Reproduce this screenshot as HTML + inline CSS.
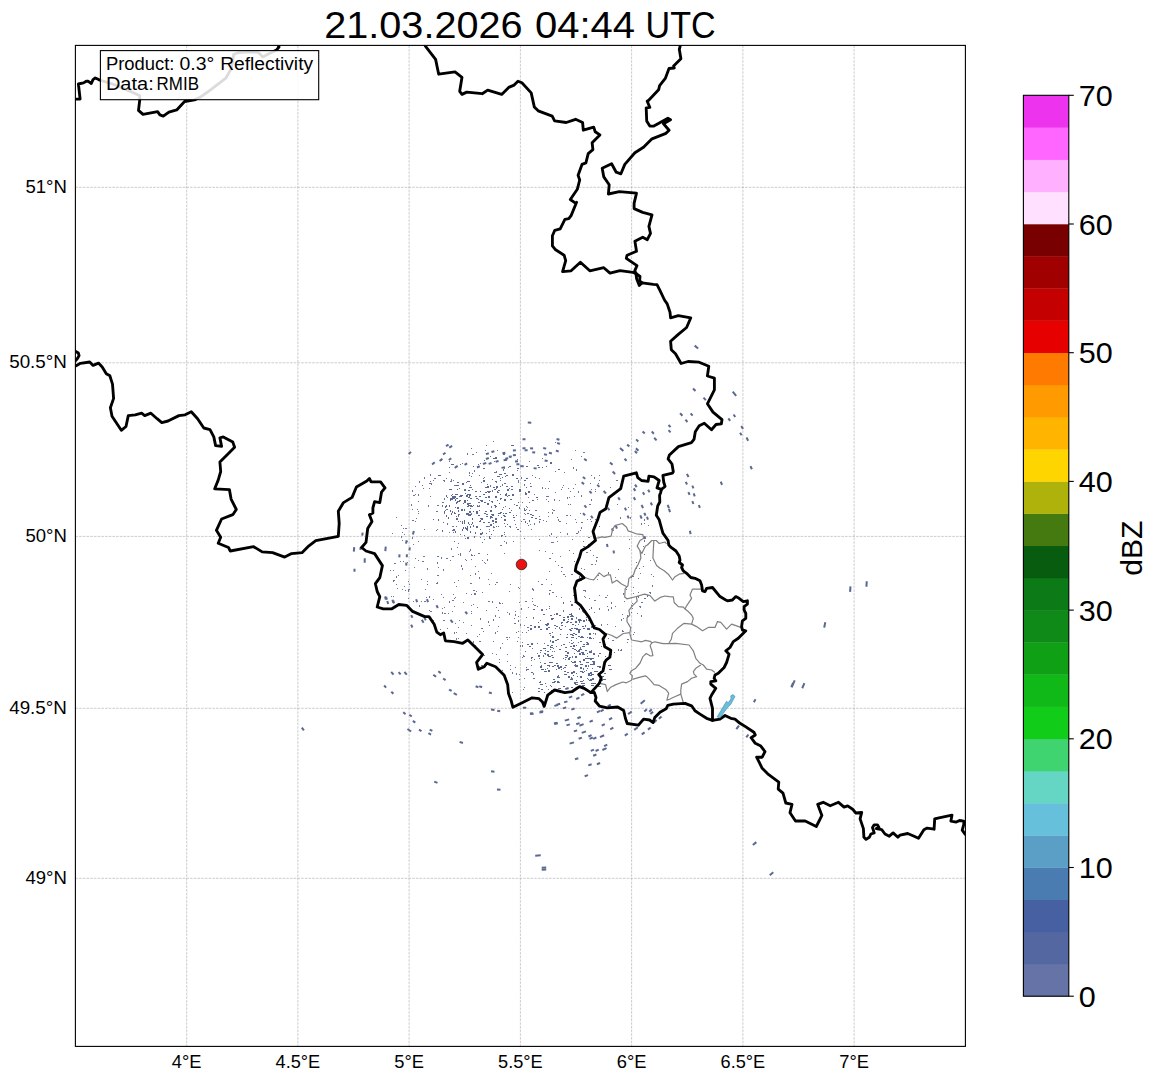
<!DOCTYPE html><html><head><meta charset="utf-8"><style>html,body{margin:0;padding:0;background:#fff;}svg{display:block;}text{font-family:"Liberation Sans",sans-serif;}</style></head><body>
<svg width="1157" height="1081" viewBox="0 0 1157 1081">
<rect x="0" y="0" width="1157" height="1081" fill="#fff"/>
<defs><clipPath id="ax"><rect x="75.4" y="45.4" width="890.0" height="1001.0000000000001"/></clipPath></defs>
<path d="M186.7 45.4V1046.4M297.9 45.4V1046.4M409.1 45.4V1046.4M520.4 45.4V1046.4M631.6 45.4V1046.4M742.9 45.4V1046.4M854.1 45.4V1046.4M75.4 878.3H965.4M75.4 708.3H965.4M75.4 536.4H965.4M75.4 362.8H965.4M75.4 187.3H965.4" stroke="#aaaaaa" stroke-width="0.6" stroke-dasharray="2.6,1.1" fill="none"/>
<g clip-path="url(#ax)">
<g fill="#5a6892">
<rect x="694.2" y="345.9" width="4.5" height="2" transform="rotate(39 696.2 346.9)"/>
<rect x="692.6" y="388.6" width="3.5" height="2" transform="rotate(45 694.1 389.6)"/>
<rect x="703.0" y="397.7" width="3.5" height="2" transform="rotate(48 704.5 398.7)"/>
<rect x="731.8" y="392.5" width="5.5" height="2" transform="rotate(51 734.3 393.5)"/>
<rect x="679.6" y="413.3" width="3.5" height="2" transform="rotate(47 681.1 414.3)"/>
<rect x="690.2" y="413.3" width="3.0" height="2" transform="rotate(49 691.5 414.3)"/>
<rect x="685.0" y="419.7" width="3.0" height="2" transform="rotate(49 686.3 420.7)"/>
<rect x="668.1" y="424.9" width="3.0" height="2" transform="rotate(47 669.4 425.9)"/>
<rect x="668.1" y="430.1" width="3.0" height="2" transform="rotate(48 669.4 431.1)"/>
<rect x="653.7" y="437.9" width="3.5" height="2" transform="rotate(47 655.2 438.9)"/>
<rect x="651.4" y="431.4" width="3.0" height="2" transform="rotate(45 652.6 432.4)"/>
<rect x="642.2" y="431.4" width="3.0" height="2" transform="rotate(43 643.5 432.4)"/>
<rect x="635.8" y="439.2" width="3.0" height="2" transform="rotate(43 637.0 440.2)"/>
<rect x="619.5" y="448.3" width="4.5" height="2" transform="rotate(41 621.5 449.3)"/>
<rect x="635.5" y="448.3" width="3.5" height="2" transform="rotate(45 637.0 449.3)"/>
<rect x="634.5" y="450.9" width="3.0" height="2" transform="rotate(45 635.7 451.9)"/>
<rect x="626.8" y="444.4" width="3.0" height="2" transform="rotate(42 628.0 445.4)"/>
<rect x="624.1" y="458.6" width="3.0" height="2" transform="rotate(45 625.4 459.6)"/>
<rect x="609.6" y="462.5" width="3.5" height="2" transform="rotate(42 611.1 463.5)"/>
<rect x="612.2" y="471.6" width="3.5" height="2" transform="rotate(45 613.7 472.6)"/>
<rect x="727.9" y="418.4" width="3.0" height="2" transform="rotate(55 729.1 419.4)"/>
<rect x="733.0" y="414.6" width="3.0" height="2" transform="rotate(55 734.3 415.6)"/>
<rect x="740.5" y="426.2" width="3.5" height="2" transform="rotate(58 742.0 427.2)"/>
<rect x="739.5" y="432.7" width="3.0" height="2" transform="rotate(59 740.7 433.7)"/>
<rect x="745.7" y="437.9" width="3.5" height="2" transform="rotate(61 747.2 438.9)"/>
<rect x="749.6" y="466.4" width="3.5" height="2" transform="rotate(67 751.1 467.4)"/>
<rect x="686.1" y="474.2" width="3.5" height="2" transform="rotate(62 687.6 475.2)"/>
<rect x="685.0" y="482.0" width="3.0" height="2" transform="rotate(64 686.3 483.0)"/>
<rect x="691.5" y="485.9" width="3.0" height="2" transform="rotate(66 692.8 486.9)"/>
<rect x="692.9" y="493.6" width="3.0" height="2" transform="rotate(68 694.1 494.6)"/>
<rect x="687.6" y="492.3" width="3.0" height="2" transform="rotate(67 688.9 493.3)"/>
<rect x="691.5" y="501.4" width="3.0" height="2" transform="rotate(70 692.8 502.4)"/>
<rect x="698.0" y="505.3" width="3.0" height="2" transform="rotate(72 699.3 506.3)"/>
<rect x="719.8" y="482.0" width="3.5" height="2" transform="rotate(68 721.3 483.0)"/>
<rect x="666.7" y="505.3" width="3.5" height="2" transform="rotate(68 668.2 506.3)"/>
<rect x="667.9" y="509.2" width="3.5" height="2" transform="rotate(70 669.4 510.2)"/>
<rect x="688.7" y="531.2" width="3.5" height="2" transform="rotate(79 690.2 532.2)"/>
<rect x="584.0" y="458.6" width="3.0" height="2" transform="rotate(31 585.2 459.6)"/>
<rect x="581.4" y="482.0" width="3.0" height="2" transform="rotate(37 582.6 483.0)"/>
<rect x="582.6" y="476.8" width="3.0" height="2" transform="rotate(36 583.9 477.8)"/>
<rect x="596.9" y="484.6" width="3.0" height="2" transform="rotate(44 598.1 485.6)"/>
<rect x="589.1" y="491.0" width="3.0" height="2" transform="rotate(44 590.4 492.0)"/>
<rect x="603.1" y="491.0" width="3.5" height="2" transform="rotate(49 604.6 492.0)"/>
<rect x="584.0" y="505.3" width="3.0" height="2" transform="rotate(48 585.2 506.3)"/>
<rect x="582.6" y="513.1" width="3.0" height="2" transform="rotate(51 583.9 514.1)"/>
<rect x="590.5" y="515.7" width="3.0" height="2" transform="rotate(56 591.7 516.7)"/>
<rect x="634.5" y="484.6" width="3.0" height="2" transform="rotate(55 635.7 485.6)"/>
<rect x="633.1" y="488.5" width="3.0" height="2" transform="rotate(56 634.4 489.5)"/>
<rect x="633.1" y="497.5" width="3.0" height="2" transform="rotate(60 634.4 498.5)"/>
<rect x="642.2" y="492.3" width="3.0" height="2" transform="rotate(60 643.5 493.3)"/>
<rect x="647.5" y="489.7" width="3.0" height="2" transform="rotate(60 648.7 490.7)"/>
<rect x="640.7" y="505.3" width="3.5" height="2" transform="rotate(64 642.2 506.3)"/>
<rect x="650.0" y="502.7" width="3.0" height="2" transform="rotate(65 651.3 503.7)"/>
<rect x="624.1" y="507.9" width="3.0" height="2" transform="rotate(62 625.4 508.9)"/>
<rect x="626.8" y="515.7" width="3.0" height="2" transform="rotate(66 628.0 516.7)"/>
<rect x="639.4" y="515.7" width="3.5" height="2" transform="rotate(68 640.9 516.7)"/>
<rect x="643.5" y="513.1" width="3.0" height="2" transform="rotate(68 644.8 514.1)"/>
<rect x="646.1" y="517.0" width="3.0" height="2" transform="rotate(70 647.4 518.0)"/>
<rect x="617.6" y="497.5" width="3.0" height="2" transform="rotate(56 618.9 498.5)"/>
<rect x="607.2" y="507.9" width="3.0" height="2" transform="rotate(57 608.5 508.9)"/>
<rect x="615.0" y="526.0" width="3.0" height="2" transform="rotate(68 616.3 527.0)"/>
<rect x="611.1" y="528.6" width="3.0" height="2" transform="rotate(69 612.4 529.6)"/>
<rect x="606.0" y="544.2" width="3.0" height="2" transform="rotate(77 607.2 545.2)"/>
<rect x="612.5" y="550.7" width="3.0" height="2" transform="rotate(82 613.7 551.7)"/>
<rect x="643.5" y="536.4" width="3.0" height="2" transform="rotate(78 644.8 537.4)"/>
<rect x="301.5" y="728.2" width="3.5" height="2" transform="rotate(233 303.0 729.2)"/>
<rect x="391.0" y="672.5" width="3.5" height="2" transform="rotate(230 392.5 673.5)"/>
<rect x="398.6" y="672.5" width="3.0" height="2" transform="rotate(228 399.8 673.5)"/>
<rect x="404.3" y="672.5" width="3.5" height="2" transform="rotate(227 405.8 673.5)"/>
<rect x="384.1" y="685.8" width="3.0" height="2" transform="rotate(228 385.3 686.8)"/>
<rect x="391.2" y="691.9" width="3.0" height="2" transform="rotate(225 392.5 692.9)"/>
<rect x="433.4" y="674.9" width="3.5" height="2" transform="rotate(218 434.9 675.9)"/>
<rect x="438.4" y="671.3" width="3.0" height="2" transform="rotate(217 439.7 672.3)"/>
<rect x="443.4" y="678.5" width="3.0" height="2" transform="rotate(214 444.6 679.5)"/>
<rect x="449.4" y="689.4" width="3.0" height="2" transform="rotate(209 450.6 690.4)"/>
<rect x="454.0" y="693.1" width="3.5" height="2" transform="rotate(207 455.5 694.1)"/>
<rect x="403.4" y="712.4" width="3.0" height="2" transform="rotate(218 404.6 713.4)"/>
<rect x="409.4" y="714.8" width="3.0" height="2" transform="rotate(216 410.7 715.8)"/>
<rect x="413.1" y="720.9" width="3.0" height="2" transform="rotate(214 414.3 721.9)"/>
<rect x="407.5" y="729.4" width="4.5" height="2" transform="rotate(214 409.5 730.4)"/>
<rect x="419.1" y="729.4" width="3.0" height="2" transform="rotate(211 420.4 730.4)"/>
<rect x="428.8" y="733.0" width="3.0" height="2" transform="rotate(208 430.0 734.0)"/>
<rect x="430.1" y="729.4" width="3.0" height="2" transform="rotate(209 431.3 730.4)"/>
<rect x="460.0" y="741.5" width="3.5" height="2" transform="rotate(199 461.5 742.5)"/>
<rect x="491.5" y="770.5" width="3.5" height="2" transform="rotate(188 493.0 771.5)"/>
<rect x="434.6" y="781.4" width="3.5" height="2" transform="rotate(201 436.1 782.4)"/>
<rect x="497.5" y="788.7" width="3.5" height="2" transform="rotate(186 499.0 789.7)"/>
<rect x="475.9" y="685.8" width="3.0" height="2" transform="rotate(200 477.2 686.8)"/>
<rect x="479.6" y="685.8" width="3.0" height="2" transform="rotate(198 480.9 686.8)"/>
<rect x="491.5" y="708.8" width="3.5" height="2" transform="rotate(191 493.0 709.8)"/>
<rect x="497.8" y="710.0" width="3.0" height="2" transform="rotate(189 499.0 711.0)"/>
<rect x="530.5" y="712.4" width="3.0" height="2" transform="rotate(176 531.7 713.4)"/>
<rect x="539.9" y="711.2" width="3.5" height="2" transform="rotate(172 541.4 712.2)"/>
<rect x="554.4" y="722.1" width="3.5" height="2" transform="rotate(168 555.9 723.1)"/>
<rect x="489.4" y="691.9" width="3.0" height="2" transform="rotate(194 490.6 692.9)"/>
<rect x="410.6" y="615.6" width="3.0" height="2" transform="rotate(245 411.9 616.6)"/>
<rect x="410.6" y="625.3" width="3.0" height="2" transform="rotate(241 411.9 626.3)"/>
<rect x="421.3" y="620.5" width="3.5" height="2" transform="rotate(240 422.8 621.5)"/>
<rect x="423.9" y="618.0" width="3.0" height="2" transform="rotate(240 425.2 619.0)"/>
<rect x="385.2" y="597.5" width="3.0" height="2" transform="rotate(256 386.5 598.5)"/>
<rect x="392.4" y="601.1" width="3.0" height="2" transform="rotate(254 393.7 602.1)"/>
<rect x="415.4" y="599.9" width="3.0" height="2" transform="rotate(251 416.7 600.9)"/>
<rect x="426.4" y="599.9" width="3.0" height="2" transform="rotate(249 427.6 600.9)"/>
<rect x="436.1" y="605.9" width="3.0" height="2" transform="rotate(243 437.3 606.9)"/>
<rect x="450.3" y="620.5" width="3.5" height="2" transform="rotate(231 451.8 621.5)"/>
<rect x="465.1" y="612.0" width="3.0" height="2" transform="rotate(229 466.4 613.0)"/>
<rect x="535.7" y="854.5" width="5.5" height="2" transform="rotate(177 538.2 855.5)"/>
<rect x="542.2" y="866.6" width="4.5" height="2" transform="rotate(176 544.2 867.6)"/>
<rect x="542.2" y="868.6" width="4.5" height="2" transform="rotate(176 544.2 869.6)"/>
<rect x="585.1" y="774.6" width="3.5" height="2" transform="rotate(163 586.6 775.6)"/>
<rect x="588.7" y="763.7" width="3.5" height="2" transform="rotate(161 590.2 764.7)"/>
<rect x="597.2" y="762.5" width="3.5" height="2" transform="rotate(159 598.7 763.5)"/>
<rect x="575.4" y="757.7" width="3.5" height="2" transform="rotate(164 576.9 758.7)"/>
<rect x="593.5" y="754.0" width="3.5" height="2" transform="rotate(159 595.0 755.0)"/>
<rect x="591.1" y="749.2" width="3.5" height="2" transform="rotate(159 592.6 750.2)"/>
<rect x="595.9" y="749.2" width="3.5" height="2" transform="rotate(158 597.4 750.2)"/>
<rect x="602.7" y="748.0" width="4.5" height="2" transform="rotate(156 604.7 749.0)"/>
<rect x="604.4" y="744.3" width="3.5" height="2" transform="rotate(155 605.9 745.3)"/>
<rect x="570.0" y="741.9" width="4.5" height="2" transform="rotate(164 572.0 742.9)"/>
<rect x="589.9" y="737.1" width="3.5" height="2" transform="rotate(158 591.4 738.1)"/>
<rect x="593.5" y="737.1" width="3.5" height="2" transform="rotate(157 595.0 738.1)"/>
<rect x="600.3" y="735.1" width="4.5" height="2" transform="rotate(155 602.3 736.1)"/>
<rect x="588.7" y="734.7" width="3.5" height="2" transform="rotate(158 590.2 735.7)"/>
<rect x="579.0" y="737.1" width="3.5" height="2" transform="rotate(161 580.5 738.1)"/>
<rect x="574.2" y="729.8" width="3.5" height="2" transform="rotate(162 575.7 730.8)"/>
<rect x="582.1" y="731.0" width="4.5" height="2" transform="rotate(160 584.1 732.0)"/>
<rect x="566.9" y="723.8" width="3.5" height="2" transform="rotate(164 568.4 724.8)"/>
<rect x="576.6" y="722.6" width="3.5" height="2" transform="rotate(160 578.1 723.6)"/>
<rect x="579.7" y="723.8" width="4.5" height="2" transform="rotate(159 581.7 724.8)"/>
<rect x="602.0" y="723.8" width="3.5" height="2" transform="rotate(153 603.5 724.8)"/>
<rect x="610.5" y="727.4" width="3.5" height="2" transform="rotate(151 612.0 728.4)"/>
<rect x="554.8" y="722.6" width="3.5" height="2" transform="rotate(168 556.3 723.6)"/>
<rect x="565.2" y="718.9" width="4.5" height="2" transform="rotate(164 567.2 719.9)"/>
<rect x="577.8" y="716.5" width="3.5" height="2" transform="rotate(159 579.3 717.5)"/>
<rect x="589.9" y="720.1" width="3.5" height="2" transform="rotate(156 591.4 721.1)"/>
<rect x="609.3" y="717.7" width="3.5" height="2" transform="rotate(150 610.8 718.7)"/>
<rect x="625.0" y="733.5" width="3.5" height="2" transform="rotate(148 626.5 734.5)"/>
<rect x="634.2" y="727.4" width="4.5" height="2" transform="rotate(145 636.2 728.4)"/>
<rect x="641.9" y="732.2" width="3.5" height="2" transform="rotate(144 643.4 733.2)"/>
<rect x="648.0" y="727.4" width="3.5" height="2" transform="rotate(142 649.5 728.4)"/>
<rect x="654.0" y="720.1" width="3.5" height="2" transform="rotate(139 655.5 721.1)"/>
<rect x="658.9" y="716.5" width="3.5" height="2" transform="rotate(138 660.4 717.5)"/>
<rect x="628.1" y="711.7" width="4.5" height="2" transform="rotate(144 630.1 712.7)"/>
<rect x="597.2" y="710.5" width="3.5" height="2" transform="rotate(152 598.7 711.5)"/>
<rect x="600.8" y="709.3" width="3.5" height="2" transform="rotate(151 602.3 710.3)"/>
<rect x="608.0" y="704.4" width="3.5" height="2" transform="rotate(148 609.5 705.4)"/>
<rect x="640.4" y="700.8" width="5.5" height="2" transform="rotate(139 642.9 701.8)"/>
<rect x="644.3" y="709.3" width="3.5" height="2" transform="rotate(140 645.8 710.3)"/>
<rect x="649.2" y="709.3" width="3.5" height="2" transform="rotate(138 650.7 710.3)"/>
<rect x="650.4" y="711.7" width="3.5" height="2" transform="rotate(139 651.9 712.7)"/>
<rect x="554.8" y="704.4" width="3.5" height="2" transform="rotate(166 556.3 705.4)"/>
<rect x="557.2" y="703.2" width="3.5" height="2" transform="rotate(165 558.7 704.2)"/>
<rect x="563.3" y="706.8" width="3.5" height="2" transform="rotate(163 564.8 707.8)"/>
<rect x="571.7" y="708.0" width="3.5" height="2" transform="rotate(160 573.2 709.0)"/>
<rect x="530.6" y="712.9" width="3.5" height="2" transform="rotate(176 532.1 713.9)"/>
<rect x="540.3" y="710.5" width="3.5" height="2" transform="rotate(172 541.8 711.5)"/>
<rect x="523.3" y="706.8" width="3.5" height="2" transform="rotate(179 524.8 707.8)"/>
<rect x="564.5" y="700.8" width="3.5" height="2" transform="rotate(162 566.0 701.8)"/>
<rect x="569.3" y="695.9" width="3.5" height="2" transform="rotate(160 570.8 696.9)"/>
<rect x="576.6" y="697.2" width="3.5" height="2" transform="rotate(157 578.1 698.2)"/>
<rect x="581.4" y="693.5" width="3.5" height="2" transform="rotate(155 582.9 694.5)"/>
<rect x="565.7" y="687.5" width="3.5" height="2" transform="rotate(160 567.2 688.5)"/>
<rect x="735.8" y="726.2" width="4.5" height="2" transform="rotate(127 737.8 727.2)"/>
<rect x="746.0" y="734.7" width="3.5" height="2" transform="rotate(127 747.5 735.7)"/>
<rect x="753.3" y="699.6" width="3.5" height="2" transform="rotate(120 754.8 700.6)"/>
<rect x="790.3" y="683.8" width="4.5" height="2" transform="rotate(114 792.3 684.8)"/>
<rect x="752.8" y="842.4" width="4.5" height="2" transform="rotate(140 754.8 843.4)"/>
<rect x="769.7" y="872.6" width="4.5" height="2" transform="rotate(141 771.7 873.6)"/>
<rect x="847.8" y="587.9" width="5.5" height="2" transform="rotate(94 850.3 588.9)"/>
<rect x="864.1" y="582.7" width="5.5" height="2" transform="rotate(93 866.6 583.7)"/>
<rect x="822.3" y="623.7" width="5.5" height="2" transform="rotate(101 824.8 624.7)"/>
<rect x="789.8" y="682.6" width="7.5" height="2" transform="rotate(114 793.3 683.6)"/>
<rect x="800.9" y="684.5" width="5.5" height="2" transform="rotate(113 803.4 685.5)"/>
<rect x="527.8" y="421.7" width="3.5" height="2" transform="rotate(3 529.3 422.7)"/>
<rect x="449.0" y="445.9" width="3.5" height="2" transform="rotate(-31 450.5 446.9)"/>
<rect x="445.8" y="444.5" width="3.0" height="2" transform="rotate(-32 447.0 445.5)"/>
<rect x="442.8" y="452.8" width="3.0" height="2" transform="rotate(-35 444.0 453.8)"/>
<rect x="439.3" y="459.0" width="3.5" height="2" transform="rotate(-38 440.8 460.0)"/>
<rect x="431.7" y="462.5" width="3.5" height="2" transform="rotate(-41 433.2 463.5)"/>
<rect x="454.5" y="466.0" width="3.5" height="2" transform="rotate(-34 456.0 467.0)"/>
<rect x="448.6" y="458.3" width="3.0" height="2" transform="rotate(-34 449.8 459.3)"/>
<rect x="464.4" y="463.2" width="3.0" height="2" transform="rotate(-29 465.7 464.2)"/>
<rect x="476.9" y="466.0" width="3.0" height="2" transform="rotate(-24 478.1 467.0)"/>
<rect x="482.9" y="462.5" width="3.5" height="2" transform="rotate(-20 484.4 463.5)"/>
<rect x="491.4" y="450.7" width="3.0" height="2" transform="rotate(-14 492.7 451.7)"/>
<rect x="485.9" y="452.8" width="3.0" height="2" transform="rotate(-17 487.1 453.8)"/>
<rect x="485.9" y="457.6" width="3.0" height="2" transform="rotate(-18 487.1 458.6)"/>
<rect x="502.4" y="452.1" width="3.0" height="2" transform="rotate(-9 503.7 453.1)"/>
<rect x="512.9" y="449.3" width="3.0" height="2" transform="rotate(-4 514.1 450.3)"/>
<rect x="512.9" y="454.2" width="3.0" height="2" transform="rotate(-4 514.1 455.2)"/>
<rect x="508.8" y="455.6" width="3.0" height="2" transform="rotate(-6 510.0 456.6)"/>
<rect x="505.2" y="457.6" width="3.0" height="2" transform="rotate(-8 506.5 458.6)"/>
<rect x="503.6" y="459.0" width="3.5" height="2" transform="rotate(-9 505.1 460.0)"/>
<rect x="495.6" y="460.4" width="3.0" height="2" transform="rotate(-13 496.8 461.4)"/>
<rect x="488.6" y="462.5" width="3.0" height="2" transform="rotate(-17 489.9 463.5)"/>
<rect x="501.5" y="466.6" width="3.5" height="2" transform="rotate(-11 503.0 467.6)"/>
<rect x="515.0" y="460.4" width="3.0" height="2" transform="rotate(-3 516.2 461.4)"/>
<rect x="516.4" y="463.2" width="3.0" height="2" transform="rotate(-2 517.6 464.2)"/>
<rect x="520.2" y="465.2" width="3.5" height="2" transform="rotate(0 521.7 466.2)"/>
<rect x="522.5" y="438.3" width="3.0" height="2" transform="rotate(1 523.8 439.3)"/>
<rect x="522.5" y="447.3" width="3.0" height="2" transform="rotate(1 523.8 448.3)"/>
<rect x="530.1" y="447.3" width="3.0" height="2" transform="rotate(5 531.4 448.3)"/>
<rect x="524.6" y="449.3" width="3.0" height="2" transform="rotate(2 525.9 450.3)"/>
<rect x="532.2" y="451.4" width="3.0" height="2" transform="rotate(6 533.5 452.4)"/>
<rect x="543.2" y="447.3" width="3.0" height="2" transform="rotate(11 544.5 448.3)"/>
<rect x="544.0" y="453.5" width="3.0" height="2" transform="rotate(12 545.2 454.5)"/>
<rect x="548.9" y="452.1" width="3.0" height="2" transform="rotate(14 550.1 453.1)"/>
<rect x="544.6" y="459.7" width="3.0" height="2" transform="rotate(13 545.9 460.7)"/>
<rect x="556.5" y="438.3" width="3.0" height="2" transform="rotate(16 557.7 439.3)"/>
<rect x="557.1" y="442.4" width="3.0" height="2" transform="rotate(17 558.4 443.4)"/>
<rect x="555.8" y="450.0" width="3.0" height="2" transform="rotate(17 557.0 451.0)"/>
<rect x="533.6" y="467.3" width="3.0" height="2" transform="rotate(8 534.9 468.3)"/>
<rect x="408.4" y="452.1" width="3.0" height="2" transform="rotate(-45 409.7 453.1)"/>
<rect x="352.0" y="548.6" width="4.5" height="2" transform="rotate(-85 354.0 549.6)"/>
<rect x="359.2" y="547.7" width="3.0" height="2" transform="rotate(-84 360.5 548.7)"/>
<rect x="362.7" y="559.7" width="4.5" height="2" transform="rotate(-89 364.7 560.7)"/>
<rect x="353.2" y="569.4" width="3.0" height="2" transform="rotate(268 354.5 570.4)"/>
<rect x="361.1" y="533.3" width="3.0" height="2" transform="rotate(-79 362.4 534.3)"/>
<rect x="383.5" y="548.1" width="4.5" height="2" transform="rotate(-84 385.5 549.1)"/>
<rect x="404.8" y="541.2" width="3.5" height="2" transform="rotate(-79 406.3 542.2)"/>
<rect x="408.4" y="548.1" width="3.0" height="2" transform="rotate(-82 409.6 549.1)"/>
<rect x="398.1" y="555.1" width="3.0" height="2" transform="rotate(-86 399.4 556.1)"/>
<rect x="405.6" y="555.1" width="3.0" height="2" transform="rotate(-86 406.8 556.1)"/>
<rect x="405.1" y="563.4" width="3.0" height="2" transform="rotate(-90 406.3 564.4)"/>
<rect x="411.8" y="532.0" width="3.5" height="2" transform="rotate(-74 413.3 533.0)"/>
<rect x="384.2" y="597.2" width="3.0" height="2" transform="rotate(256 385.5 598.2)"/>
<rect x="391.6" y="600.4" width="3.0" height="2" transform="rotate(254 392.9 601.4)"/>
<rect x="386.6" y="601.8" width="3.0" height="2" transform="rotate(254 387.8 602.8)"/>
<rect x="598" y="483" width="1" height="1" fill="#6a779c"/>
<rect x="504" y="541" width="1" height="1" fill="#6a779c"/>
<rect x="454" y="582" width="1" height="1" fill="#6a779c"/>
<rect x="578" y="624" width="1" height="1" fill="#6a779c"/>
<rect x="463" y="622" width="1" height="1" fill="#6a779c"/>
<rect x="488" y="621" width="1" height="2" fill="#6a779c"/>
<rect x="418" y="511" width="1" height="1" fill="#6a779c"/>
<rect x="601" y="646" width="1" height="1" fill="#6a779c"/>
<rect x="557" y="541" width="1" height="1" fill="#6a779c"/>
<rect x="431" y="483" width="1" height="2" fill="#6a779c"/>
<rect x="615" y="626" width="1" height="1" fill="#6a779c"/>
<rect x="482" y="560" width="1" height="1" fill="#6a779c"/>
<rect x="451" y="548" width="1" height="2" fill="#6a779c"/>
<rect x="541" y="609" width="2" height="1" fill="#6a779c"/>
<rect x="636" y="562" width="1" height="1" fill="#6a779c"/>
<rect x="565" y="659" width="1" height="1" fill="#6a779c"/>
<rect x="413" y="601" width="1" height="1" fill="#6a779c"/>
<rect x="539" y="539" width="1" height="1" fill="#6a779c"/>
<rect x="503" y="469" width="1" height="2" fill="#6a779c"/>
<rect x="524" y="513" width="1" height="1" fill="#6a779c"/>
<rect x="573" y="467" width="1" height="2" fill="#6a779c"/>
<rect x="621" y="649" width="1" height="2" fill="#6a779c"/>
<rect x="521" y="477" width="1" height="2" fill="#6a779c"/>
<rect x="529" y="502" width="1" height="1" fill="#6a779c"/>
<rect x="509" y="591" width="1" height="1" fill="#6a779c"/>
<rect x="607" y="595" width="1" height="1" fill="#6a779c"/>
<rect x="524" y="687" width="1" height="1" fill="#6a779c"/>
<rect x="571" y="574" width="2" height="1" fill="#6a779c"/>
<rect x="559" y="521" width="2" height="1" fill="#6a779c"/>
<rect x="510" y="669" width="1" height="1" fill="#6a779c"/>
<rect x="453" y="497" width="2" height="1" fill="#6a779c"/>
<rect x="561" y="597" width="1" height="1" fill="#6a779c"/>
<rect x="586" y="552" width="2" height="1" fill="#6a779c"/>
<rect x="458" y="521" width="1" height="1" fill="#6a779c"/>
<rect x="589" y="504" width="2" height="1" fill="#6a779c"/>
<rect x="490" y="456" width="1" height="1" fill="#6a779c"/>
<rect x="559" y="627" width="1" height="1" fill="#6a779c"/>
<rect x="415" y="494" width="1" height="1" fill="#6a779c"/>
<rect x="465" y="559" width="1" height="1" fill="#6a779c"/>
<rect x="555" y="471" width="1" height="1" fill="#6a779c"/>
<rect x="451" y="479" width="1" height="2" fill="#6a779c"/>
<rect x="490" y="485" width="1" height="2" fill="#6a779c"/>
<rect x="549" y="666" width="1" height="1" fill="#6a779c"/>
<rect x="516" y="527" width="1" height="1" fill="#6a779c"/>
<rect x="442" y="612" width="1" height="2" fill="#6a779c"/>
<rect x="621" y="619" width="1" height="2" fill="#6a779c"/>
<rect x="647" y="595" width="1" height="1" fill="#6a779c"/>
<rect x="611" y="607" width="1" height="1" fill="#6a779c"/>
<rect x="566" y="523" width="1" height="1" fill="#6a779c"/>
<rect x="402" y="589" width="1" height="1" fill="#6a779c"/>
<rect x="450" y="481" width="2" height="1" fill="#6a779c"/>
<rect x="518" y="482" width="1" height="1" fill="#6a779c"/>
<rect x="403" y="561" width="1" height="1" fill="#6a779c"/>
<rect x="569" y="497" width="1" height="1" fill="#6a779c"/>
<rect x="633" y="587" width="1" height="1" fill="#6a779c"/>
<rect x="424" y="529" width="1" height="1" fill="#6a779c"/>
<rect x="430" y="611" width="1" height="1" fill="#6a779c"/>
<rect x="453" y="594" width="1" height="1" fill="#6a779c"/>
<rect x="458" y="627" width="1" height="1" fill="#6a779c"/>
<rect x="575" y="519" width="1" height="1" fill="#6a779c"/>
<rect x="549" y="535" width="1" height="1" fill="#6a779c"/>
<rect x="466" y="593" width="1" height="1" fill="#6a779c"/>
<rect x="532" y="475" width="1" height="1" fill="#6a779c"/>
<rect x="551" y="655" width="2" height="1" fill="#6a779c"/>
<rect x="632" y="603" width="1" height="1" fill="#6a779c"/>
<rect x="605" y="597" width="2" height="1" fill="#6a779c"/>
<rect x="515" y="667" width="1" height="1" fill="#6a779c"/>
<rect x="552" y="662" width="1" height="1" fill="#6a779c"/>
<rect x="518" y="637" width="1" height="1" fill="#6a779c"/>
<rect x="498" y="610" width="1" height="1" fill="#6a779c"/>
<rect x="449" y="461" width="1" height="1" fill="#6a779c"/>
<rect x="517" y="641" width="1" height="1" fill="#6a779c"/>
<rect x="471" y="583" width="1" height="1" fill="#6a779c"/>
<rect x="546" y="609" width="1" height="1" fill="#6a779c"/>
<rect x="533" y="589" width="1" height="1" fill="#6a779c"/>
<rect x="514" y="618" width="1" height="1" fill="#6a779c"/>
<rect x="432" y="620" width="2" height="1" fill="#6a779c"/>
<rect x="572" y="539" width="1" height="1" fill="#6a779c"/>
<rect x="502" y="535" width="1" height="1" fill="#6a779c"/>
<rect x="583" y="546" width="2" height="1" fill="#6a779c"/>
<rect x="597" y="579" width="1" height="1" fill="#6a779c"/>
<rect x="419" y="481" width="1" height="2" fill="#6a779c"/>
<rect x="441" y="557" width="1" height="2" fill="#6a779c"/>
<rect x="549" y="593" width="1" height="2" fill="#6a779c"/>
<rect x="467" y="453" width="1" height="2" fill="#6a779c"/>
<rect x="524" y="678" width="1" height="1" fill="#6a779c"/>
<rect x="547" y="668" width="1" height="1" fill="#6a779c"/>
<rect x="500" y="499" width="1" height="1" fill="#6a779c"/>
<rect x="471" y="559" width="1" height="1" fill="#6a779c"/>
<rect x="628" y="624" width="1" height="1" fill="#6a779c"/>
<rect x="480" y="657" width="1" height="1" fill="#6a779c"/>
<rect x="443" y="480" width="2" height="1" fill="#6a779c"/>
<rect x="549" y="558" width="2" height="1" fill="#6a779c"/>
<rect x="581" y="495" width="1" height="2" fill="#6a779c"/>
<rect x="589" y="598" width="1" height="1" fill="#6a779c"/>
<rect x="575" y="585" width="1" height="2" fill="#6a779c"/>
<rect x="418" y="560" width="1" height="1" fill="#6a779c"/>
<rect x="396" y="584" width="1" height="1" fill="#6a779c"/>
<rect x="591" y="489" width="1" height="1" fill="#6a779c"/>
<rect x="454" y="632" width="1" height="2" fill="#6a779c"/>
<rect x="548" y="501" width="1" height="1" fill="#6a779c"/>
<rect x="495" y="584" width="1" height="1" fill="#6a779c"/>
<rect x="406" y="528" width="1" height="1" fill="#6a779c"/>
<rect x="569" y="642" width="1" height="1" fill="#6a779c"/>
<rect x="470" y="549" width="1" height="2" fill="#6a779c"/>
<rect x="471" y="613" width="1" height="1" fill="#6a779c"/>
<rect x="601" y="624" width="1" height="2" fill="#6a779c"/>
<rect x="521" y="608" width="1" height="2" fill="#6a779c"/>
<rect x="644" y="598" width="2" height="1" fill="#6a779c"/>
<rect x="462" y="568" width="1" height="2" fill="#6a779c"/>
<rect x="578" y="631" width="1" height="1" fill="#6a779c"/>
<rect x="608" y="638" width="1" height="1" fill="#6a779c"/>
<rect x="640" y="573" width="1" height="1" fill="#6a779c"/>
<rect x="472" y="489" width="1" height="1" fill="#6a779c"/>
<rect x="509" y="613" width="1" height="2" fill="#6a779c"/>
<rect x="470" y="575" width="1" height="1" fill="#6a779c"/>
<rect x="593" y="579" width="1" height="1" fill="#6a779c"/>
<rect x="463" y="602" width="1" height="1" fill="#6a779c"/>
<rect x="519" y="674" width="1" height="1" fill="#6a779c"/>
<rect x="408" y="581" width="1" height="1" fill="#6a779c"/>
<rect x="599" y="642" width="2" height="1" fill="#6a779c"/>
<rect x="499" y="602" width="1" height="1" fill="#6a779c"/>
<rect x="422" y="485" width="1" height="1" fill="#6a779c"/>
<rect x="436" y="530" width="1" height="1" fill="#6a779c"/>
<rect x="596" y="671" width="1" height="1" fill="#6a779c"/>
<rect x="614" y="492" width="2" height="1" fill="#6a779c"/>
<rect x="524" y="484" width="1" height="2" fill="#6a779c"/>
<rect x="443" y="597" width="1" height="1" fill="#6a779c"/>
<rect x="412" y="520" width="2" height="1" fill="#6a779c"/>
<rect x="527" y="627" width="2" height="1" fill="#6a779c"/>
<rect x="470" y="508" width="1" height="1" fill="#6a779c"/>
<rect x="627" y="586" width="1" height="1" fill="#6a779c"/>
<rect x="480" y="618" width="1" height="2" fill="#6a779c"/>
<rect x="506" y="513" width="1" height="1" fill="#6a779c"/>
<rect x="520" y="624" width="1" height="2" fill="#6a779c"/>
<rect x="462" y="521" width="1" height="1" fill="#6a779c"/>
<rect x="487" y="559" width="1" height="2" fill="#6a779c"/>
<rect x="483" y="631" width="1" height="1" fill="#6a779c"/>
<rect x="611" y="608" width="1" height="1" fill="#6a779c"/>
<rect x="561" y="571" width="1" height="1" fill="#6a779c"/>
<rect x="505" y="506" width="1" height="1" fill="#6a779c"/>
<rect x="502" y="603" width="1" height="1" fill="#6a779c"/>
<rect x="541" y="584" width="2" height="1" fill="#6a779c"/>
<rect x="567" y="533" width="1" height="2" fill="#6a779c"/>
<rect x="534" y="523" width="1" height="2" fill="#6a779c"/>
<rect x="607" y="624" width="1" height="1" fill="#6a779c"/>
<rect x="575" y="450" width="1" height="1" fill="#6a779c"/>
<rect x="637" y="613" width="1" height="1" fill="#6a779c"/>
<rect x="579" y="576" width="1" height="2" fill="#6a779c"/>
<rect x="566" y="515" width="2" height="1" fill="#6a779c"/>
<rect x="618" y="569" width="1" height="1" fill="#6a779c"/>
<rect x="407" y="562" width="1" height="1" fill="#6a779c"/>
<rect x="506" y="637" width="2" height="1" fill="#6a779c"/>
<rect x="565" y="576" width="1" height="1" fill="#6a779c"/>
<rect x="484" y="562" width="1" height="1" fill="#6a779c"/>
<rect x="474" y="593" width="1" height="2" fill="#6a779c"/>
<rect x="418" y="513" width="1" height="1" fill="#6a779c"/>
<rect x="513" y="541" width="1" height="1" fill="#6a779c"/>
<rect x="392" y="533" width="1" height="1" fill="#6a779c"/>
<rect x="624" y="601" width="1" height="1" fill="#6a779c"/>
<rect x="447" y="628" width="1" height="1" fill="#6a779c"/>
<rect x="572" y="656" width="1" height="2" fill="#6a779c"/>
<rect x="427" y="584" width="1" height="1" fill="#6a779c"/>
<rect x="404" y="534" width="1" height="1" fill="#6a779c"/>
<rect x="519" y="602" width="1" height="1" fill="#6a779c"/>
<rect x="629" y="539" width="1" height="1" fill="#6a779c"/>
<rect x="580" y="553" width="1" height="1" fill="#6a779c"/>
<rect x="430" y="481" width="1" height="1" fill="#6a779c"/>
<rect x="496" y="654" width="1" height="1" fill="#6a779c"/>
<rect x="519" y="588" width="1" height="1" fill="#6a779c"/>
<rect x="429" y="610" width="1" height="1" fill="#6a779c"/>
<rect x="436" y="583" width="2" height="1" fill="#6a779c"/>
<rect x="479" y="666" width="1" height="1" fill="#6a779c"/>
<rect x="591" y="499" width="1" height="2" fill="#6a779c"/>
<rect x="574" y="561" width="1" height="1" fill="#6a779c"/>
<rect x="653" y="576" width="1" height="1" fill="#6a779c"/>
<rect x="478" y="571" width="1" height="1" fill="#6a779c"/>
<rect x="539" y="521" width="1" height="2" fill="#6a779c"/>
<rect x="469" y="551" width="1" height="1" fill="#6a779c"/>
<rect x="594" y="625" width="2" height="1" fill="#6a779c"/>
<rect x="516" y="674" width="1" height="1" fill="#6a779c"/>
<rect x="444" y="607" width="1" height="1" fill="#6a779c"/>
<rect x="397" y="588" width="1" height="1" fill="#6a779c"/>
<rect x="415" y="486" width="1" height="1" fill="#6a779c"/>
<rect x="487" y="554" width="1" height="1" fill="#6a779c"/>
<rect x="460" y="521" width="1" height="1" fill="#6a779c"/>
<rect x="449" y="532" width="1" height="1" fill="#6a779c"/>
<rect x="618" y="649" width="1" height="2" fill="#6a779c"/>
<rect x="534" y="494" width="1" height="1" fill="#6a779c"/>
<rect x="552" y="592" width="2" height="1" fill="#6a779c"/>
<rect x="466" y="560" width="1" height="1" fill="#6a779c"/>
<rect x="594" y="477" width="1" height="2" fill="#6a779c"/>
<rect x="391" y="596" width="1" height="1" fill="#6a779c"/>
<rect x="411" y="504" width="1" height="2" fill="#6a779c"/>
<rect x="639" y="606" width="1" height="1" fill="#6a779c"/>
<rect x="489" y="625" width="1" height="1" fill="#6a779c"/>
<rect x="651" y="574" width="1" height="1" fill="#6a779c"/>
<rect x="405" y="528" width="1" height="1" fill="#6a779c"/>
<rect x="494" y="665" width="1" height="1" fill="#6a779c"/>
<rect x="418" y="494" width="1" height="2" fill="#6a779c"/>
<rect x="447" y="523" width="1" height="2" fill="#6a779c"/>
<rect x="454" y="606" width="1" height="1" fill="#6a779c"/>
<rect x="409" y="584" width="1" height="1" fill="#6a779c"/>
<rect x="546" y="521" width="1" height="1" fill="#6a779c"/>
<rect x="415" y="558" width="1" height="1" fill="#6a779c"/>
<rect x="560" y="556" width="1" height="1" fill="#6a779c"/>
<rect x="560" y="532" width="1" height="1" fill="#6a779c"/>
<rect x="523" y="655" width="1" height="2" fill="#6a779c"/>
<rect x="427" y="568" width="1" height="2" fill="#6a779c"/>
<rect x="454" y="541" width="1" height="1" fill="#6a779c"/>
<rect x="533" y="604" width="1" height="1" fill="#6a779c"/>
<rect x="581" y="522" width="2" height="1" fill="#6a779c"/>
<rect x="591" y="564" width="2" height="1" fill="#6a779c"/>
<rect x="631" y="605" width="1" height="1" fill="#6a779c"/>
<rect x="493" y="441" width="1" height="1" fill="#6a779c"/>
<rect x="514" y="520" width="1" height="1" fill="#6a779c"/>
<rect x="396" y="517" width="1" height="1" fill="#6a779c"/>
<rect x="595" y="564" width="1" height="1" fill="#6a779c"/>
<rect x="576" y="617" width="1" height="2" fill="#6a779c"/>
<rect x="539" y="550" width="1" height="1" fill="#6a779c"/>
<rect x="633" y="593" width="1" height="1" fill="#6a779c"/>
<rect x="485" y="563" width="1" height="1" fill="#6a779c"/>
<rect x="623" y="593" width="1" height="2" fill="#6a779c"/>
<rect x="471" y="554" width="1" height="1" fill="#6a779c"/>
<rect x="471" y="594" width="1" height="1" fill="#6a779c"/>
<rect x="509" y="526" width="2" height="1" fill="#6a779c"/>
<rect x="574" y="665" width="1" height="1" fill="#6a779c"/>
<rect x="502" y="484" width="1" height="2" fill="#6a779c"/>
<rect x="438" y="567" width="1" height="1" fill="#6a779c"/>
<rect x="470" y="583" width="1" height="1" fill="#6a779c"/>
<rect x="426" y="597" width="1" height="1" fill="#6a779c"/>
<rect x="573" y="553" width="1" height="1" fill="#6a779c"/>
<rect x="595" y="489" width="1" height="1" fill="#6a779c"/>
<rect x="450" y="560" width="1" height="1" fill="#6a779c"/>
<rect x="531" y="529" width="1" height="1" fill="#6a779c"/>
<rect x="478" y="502" width="2" height="1" fill="#6a779c"/>
<rect x="444" y="498" width="1" height="2" fill="#6a779c"/>
<rect x="408" y="589" width="2" height="1" fill="#6a779c"/>
<rect x="478" y="553" width="2" height="1" fill="#6a779c"/>
<rect x="640" y="606" width="1" height="2" fill="#6a779c"/>
<rect x="443" y="569" width="1" height="2" fill="#6a779c"/>
<rect x="474" y="471" width="1" height="1" fill="#6a779c"/>
<rect x="458" y="515" width="1" height="2" fill="#6a779c"/>
<rect x="471" y="605" width="1" height="1" fill="#6a779c"/>
<rect x="486" y="533" width="1" height="1" fill="#6a779c"/>
<rect x="488" y="601" width="2" height="1" fill="#6a779c"/>
<rect x="509" y="637" width="1" height="1" fill="#6a779c"/>
<rect x="542" y="487" width="1" height="2" fill="#6a779c"/>
<rect x="500" y="647" width="1" height="2" fill="#6a779c"/>
<rect x="507" y="612" width="1" height="1" fill="#6a779c"/>
<rect x="595" y="491" width="1" height="1" fill="#6a779c"/>
<rect x="541" y="665" width="1" height="2" fill="#6a779c"/>
<rect x="606" y="575" width="1" height="1" fill="#6a779c"/>
<rect x="533" y="678" width="1" height="1" fill="#6a779c"/>
<rect x="556" y="646" width="1" height="1" fill="#6a779c"/>
<rect x="573" y="595" width="1" height="1" fill="#6a779c"/>
<rect x="571" y="459" width="1" height="1" fill="#6a779c"/>
<rect x="548" y="512" width="1" height="1" fill="#6a779c"/>
<rect x="576" y="469" width="1" height="2" fill="#6a779c"/>
<rect x="565" y="626" width="1" height="1" fill="#6a779c"/>
<rect x="574" y="496" width="1" height="1" fill="#6a779c"/>
<rect x="548" y="689" width="1" height="1" fill="#6a779c"/>
<rect x="599" y="480" width="1" height="1" fill="#6a779c"/>
<rect x="466" y="633" width="1" height="1" fill="#6a779c"/>
<rect x="495" y="632" width="1" height="2" fill="#6a779c"/>
<rect x="583" y="541" width="1" height="1" fill="#6a779c"/>
<rect x="570" y="601" width="1" height="1" fill="#6a779c"/>
<rect x="599" y="526" width="1" height="1" fill="#6a779c"/>
<rect x="591" y="650" width="1" height="2" fill="#6a779c"/>
<rect x="552" y="553" width="1" height="1" fill="#6a779c"/>
<rect x="494" y="527" width="1" height="1" fill="#6a779c"/>
<rect x="516" y="673" width="1" height="1" fill="#6a779c"/>
<rect x="425" y="589" width="1" height="1" fill="#6a779c"/>
<rect x="631" y="612" width="1" height="1" fill="#6a779c"/>
<rect x="537" y="606" width="1" height="1" fill="#6a779c"/>
<rect x="591" y="475" width="1" height="1" fill="#6a779c"/>
<rect x="441" y="594" width="1" height="1" fill="#6a779c"/>
<rect x="627" y="615" width="1" height="2" fill="#6a779c"/>
<rect x="453" y="480" width="1" height="1" fill="#6a779c"/>
<rect x="499" y="617" width="1" height="1" fill="#6a779c"/>
<rect x="546" y="496" width="1" height="1" fill="#6a779c"/>
<rect x="471" y="625" width="1" height="1" fill="#6a779c"/>
<rect x="550" y="635" width="1" height="1" fill="#6a779c"/>
<rect x="433" y="480" width="1" height="1" fill="#6a779c"/>
<rect x="545" y="488" width="1" height="1" fill="#6a779c"/>
<rect x="465" y="501" width="1" height="1" fill="#6a779c"/>
<rect x="581" y="552" width="1" height="1" fill="#6a779c"/>
<rect x="608" y="609" width="1" height="2" fill="#6a779c"/>
<rect x="540" y="620" width="1" height="1" fill="#6a779c"/>
<rect x="555" y="492" width="1" height="1" fill="#6a779c"/>
<rect x="402" y="540" width="1" height="1" fill="#6a779c"/>
<rect x="539" y="658" width="1" height="1" fill="#6a779c"/>
<rect x="598" y="575" width="1" height="1" fill="#6a779c"/>
<rect x="590" y="483" width="1" height="1" fill="#6a779c"/>
<rect x="573" y="488" width="1" height="1" fill="#6a779c"/>
<rect x="473" y="641" width="1" height="2" fill="#6a779c"/>
<rect x="549" y="608" width="1" height="1" fill="#6a779c"/>
<rect x="644" y="519" width="1" height="2" fill="#6a779c"/>
<rect x="471" y="613" width="1" height="1" fill="#6a779c"/>
<rect x="585" y="597" width="1" height="1" fill="#6a779c"/>
<rect x="636" y="567" width="1" height="2" fill="#6a779c"/>
<rect x="434" y="478" width="2" height="1" fill="#6a779c"/>
<rect x="533" y="617" width="1" height="2" fill="#6a779c"/>
<rect x="489" y="584" width="1" height="1" fill="#6a779c"/>
<rect x="479" y="634" width="1" height="1" fill="#6a779c"/>
<rect x="552" y="651" width="1" height="1" fill="#6a779c"/>
<rect x="500" y="478" width="1" height="1" fill="#6a779c"/>
<rect x="462" y="463" width="1" height="1" fill="#6a779c"/>
<rect x="518" y="631" width="1" height="1" fill="#6a779c"/>
<rect x="506" y="542" width="1" height="2" fill="#6a779c"/>
<rect x="488" y="526" width="2" height="1" fill="#6a779c"/>
<rect x="514" y="623" width="2" height="1" fill="#6a779c"/>
<rect x="413" y="544" width="1" height="1" fill="#6a779c"/>
<rect x="510" y="456" width="1" height="2" fill="#6a779c"/>
<rect x="507" y="661" width="1" height="1" fill="#6a779c"/>
<rect x="522" y="657" width="1" height="1" fill="#6a779c"/>
<rect x="410" y="608" width="1" height="1" fill="#6a779c"/>
<rect x="584" y="569" width="1" height="1" fill="#6a779c"/>
<rect x="458" y="638" width="1" height="1" fill="#6a779c"/>
<rect x="571" y="678" width="2" height="1" fill="#6a779c"/>
<rect x="490" y="517" width="1" height="2" fill="#6a779c"/>
<rect x="632" y="576" width="1" height="1" fill="#6a779c"/>
<rect x="570" y="491" width="1" height="1" fill="#6a779c"/>
<rect x="596" y="560" width="1" height="2" fill="#6a779c"/>
<rect x="469" y="496" width="1" height="1" fill="#6a779c"/>
<rect x="503" y="507" width="1" height="1" fill="#6a779c"/>
<rect x="514" y="504" width="1" height="1" fill="#6a779c"/>
<rect x="482" y="542" width="1" height="1" fill="#6a779c"/>
<rect x="405" y="590" width="1" height="1" fill="#6a779c"/>
<rect x="444" y="613" width="2" height="1" fill="#6a779c"/>
<rect x="522" y="632" width="1" height="1" fill="#6a779c"/>
<rect x="458" y="554" width="1" height="1" fill="#6a779c"/>
<rect x="437" y="562" width="1" height="2" fill="#6a779c"/>
<rect x="442" y="608" width="1" height="1" fill="#6a779c"/>
<rect x="532" y="601" width="1" height="1" fill="#6a779c"/>
<rect x="588" y="537" width="2" height="1" fill="#6a779c"/>
<rect x="556" y="537" width="1" height="1" fill="#6a779c"/>
<rect x="641" y="523" width="1" height="2" fill="#6a779c"/>
<rect x="491" y="573" width="1" height="1" fill="#6a779c"/>
<rect x="510" y="584" width="1" height="1" fill="#6a779c"/>
<rect x="607" y="606" width="1" height="1" fill="#6a779c"/>
<rect x="567" y="497" width="1" height="2" fill="#6a779c"/>
<rect x="587" y="519" width="1" height="1" fill="#6a779c"/>
<rect x="551" y="533" width="1" height="2" fill="#6a779c"/>
<rect x="484" y="655" width="1" height="1" fill="#6a779c"/>
<rect x="581" y="579" width="1" height="2" fill="#6a779c"/>
<rect x="458" y="580" width="1" height="1" fill="#6a779c"/>
<rect x="554" y="499" width="1" height="2" fill="#6a779c"/>
<rect x="598" y="655" width="1" height="2" fill="#6a779c"/>
<rect x="481" y="665" width="2" height="1" fill="#6a779c"/>
<rect x="555" y="628" width="1" height="1" fill="#6a779c"/>
<rect x="492" y="490" width="1" height="2" fill="#6a779c"/>
<rect x="612" y="640" width="2" height="1" fill="#6a779c"/>
<rect x="643" y="546" width="1" height="1" fill="#6a779c"/>
<rect x="543" y="655" width="1" height="2" fill="#6a779c"/>
<rect x="523" y="689" width="1" height="1" fill="#6a779c"/>
<rect x="568" y="488" width="1" height="1" fill="#6a779c"/>
<rect x="404" y="586" width="1" height="1" fill="#6a779c"/>
<rect x="446" y="478" width="1" height="1" fill="#6a779c"/>
<rect x="418" y="541" width="1" height="1" fill="#6a779c"/>
<rect x="650" y="593" width="1" height="1" fill="#6a779c"/>
<rect x="543" y="520" width="1" height="1" fill="#6a779c"/>
<rect x="401" y="536" width="1" height="2" fill="#6a779c"/>
<rect x="477" y="636" width="1" height="1" fill="#6a779c"/>
<rect x="583" y="612" width="1" height="1" fill="#6a779c"/>
<rect x="499" y="659" width="1" height="1" fill="#6a779c"/>
<rect x="444" y="513" width="1" height="1" fill="#6a779c"/>
<rect x="483" y="478" width="1" height="1" fill="#6a779c"/>
<rect x="524" y="656" width="1" height="1" fill="#6a779c"/>
<rect x="517" y="470" width="1" height="1" fill="#6a779c"/>
<rect x="440" y="629" width="1" height="1" fill="#6a779c"/>
<rect x="581" y="456" width="1" height="1" fill="#6a779c"/>
<rect x="405" y="590" width="1" height="1" fill="#6a779c"/>
<rect x="563" y="485" width="1" height="1" fill="#6a779c"/>
<rect x="578" y="491" width="1" height="2" fill="#6a779c"/>
<rect x="498" y="626" width="1" height="1" fill="#6a779c"/>
<rect x="444" y="481" width="1" height="1" fill="#6a779c"/>
<rect x="394" y="580" width="1" height="1" fill="#6a779c"/>
<rect x="526" y="509" width="1" height="1" fill="#6a779c"/>
<rect x="580" y="637" width="1" height="1" fill="#6a779c"/>
<rect x="518" y="616" width="1" height="1" fill="#6a779c"/>
<rect x="394" y="563" width="2" height="1" fill="#6a779c"/>
<rect x="461" y="565" width="1" height="2" fill="#6a779c"/>
<rect x="599" y="595" width="1" height="1" fill="#6a779c"/>
<rect x="629" y="548" width="1" height="1" fill="#6a779c"/>
<rect x="549" y="481" width="1" height="1" fill="#6a779c"/>
<rect x="412" y="490" width="1" height="2" fill="#6a779c"/>
<rect x="559" y="500" width="1" height="1" fill="#6a779c"/>
<rect x="518" y="620" width="1" height="2" fill="#6a779c"/>
<rect x="453" y="532" width="1" height="1" fill="#6a779c"/>
<rect x="537" y="643" width="1" height="1" fill="#6a779c"/>
<rect x="525" y="601" width="2" height="1" fill="#6a779c"/>
<rect x="415" y="521" width="1" height="1" fill="#6a779c"/>
<rect x="534" y="605" width="2" height="1" fill="#6a779c"/>
<rect x="637" y="596" width="2" height="1" fill="#6a779c"/>
<rect x="413" y="495" width="2" height="1" fill="#6a779c"/>
<rect x="472" y="473" width="1" height="1" fill="#6a779c"/>
<rect x="594" y="600" width="2" height="1" fill="#6a779c"/>
<rect x="528" y="497" width="1" height="1" fill="#6a779c"/>
<rect x="545" y="654" width="1" height="1" fill="#6a779c"/>
<rect x="638" y="592" width="1" height="1" fill="#6a779c"/>
<rect x="456" y="638" width="1" height="2" fill="#6a779c"/>
<rect x="568" y="504" width="1" height="1" fill="#6a779c"/>
<rect x="631" y="577" width="1" height="1" fill="#6a779c"/>
<rect x="478" y="661" width="1" height="1" fill="#6a779c"/>
<rect x="588" y="620" width="1" height="1" fill="#6a779c"/>
<rect x="527" y="507" width="1" height="1" fill="#6a779c"/>
<rect x="430" y="496" width="1" height="1" fill="#6a779c"/>
<rect x="515" y="611" width="1" height="1" fill="#6a779c"/>
<rect x="493" y="526" width="1" height="2" fill="#6a779c"/>
<rect x="544" y="643" width="1" height="1" fill="#6a779c"/>
<rect x="647" y="595" width="1" height="2" fill="#6a779c"/>
<rect x="509" y="488" width="1" height="1" fill="#6a779c"/>
<rect x="468" y="515" width="1" height="1" fill="#6a779c"/>
<rect x="615" y="577" width="1" height="1" fill="#6a779c"/>
<rect x="520" y="531" width="1" height="1" fill="#6a779c"/>
<rect x="484" y="477" width="1" height="1" fill="#6a779c"/>
<rect x="549" y="590" width="2" height="1" fill="#6a779c"/>
<rect x="412" y="509" width="1" height="1" fill="#6a779c"/>
<rect x="427" y="581" width="1" height="1" fill="#6a779c"/>
<rect x="546" y="579" width="1" height="1" fill="#6a779c"/>
<rect x="475" y="573" width="1" height="2" fill="#6a779c"/>
<rect x="445" y="637" width="1" height="1" fill="#6a779c"/>
<rect x="467" y="639" width="1" height="1" fill="#6a779c"/>
<rect x="452" y="530" width="1" height="1" fill="#6a779c"/>
<rect x="437" y="575" width="2" height="1" fill="#6a779c"/>
<rect x="402" y="532" width="1" height="1" fill="#6a779c"/>
<rect x="460" y="534" width="1" height="1" fill="#6a779c"/>
<rect x="589" y="609" width="1" height="1" fill="#6a779c"/>
<rect x="485" y="450" width="1" height="1" fill="#6a779c"/>
<rect x="456" y="632" width="1" height="1" fill="#6a779c"/>
<rect x="529" y="510" width="1" height="1" fill="#6a779c"/>
<rect x="465" y="538" width="1" height="1" fill="#6a779c"/>
<rect x="499" y="603" width="2" height="1" fill="#6a779c"/>
<rect x="445" y="510" width="1" height="1" fill="#6a779c"/>
<rect x="650" y="560" width="1" height="1" fill="#6a779c"/>
<rect x="408" y="598" width="1" height="1" fill="#6a779c"/>
<rect x="553" y="542" width="1" height="1" fill="#6a779c"/>
<rect x="457" y="547" width="1" height="1" fill="#6a779c"/>
<rect x="522" y="642" width="1" height="1" fill="#6a779c"/>
<rect x="588" y="544" width="1" height="2" fill="#6a779c"/>
<rect x="540" y="662" width="1" height="1" fill="#6a779c"/>
<rect x="405" y="570" width="1" height="1" fill="#6a779c"/>
<rect x="479" y="475" width="1" height="1" fill="#6a779c"/>
<rect x="627" y="642" width="1" height="1" fill="#6a779c"/>
<rect x="526" y="506" width="1" height="1" fill="#6a779c"/>
<rect x="557" y="517" width="1" height="1" fill="#6a779c"/>
<rect x="472" y="454" width="2" height="1" fill="#6a779c"/>
<rect x="517" y="459" width="1" height="1" fill="#6a779c"/>
<rect x="527" y="523" width="1" height="1" fill="#6a779c"/>
<rect x="521" y="521" width="1" height="1" fill="#6a779c"/>
<rect x="475" y="566" width="1" height="1" fill="#6a779c"/>
<rect x="531" y="660" width="1" height="1" fill="#6a779c"/>
<rect x="570" y="504" width="1" height="1" fill="#6a779c"/>
<rect x="596" y="557" width="2" height="1" fill="#6a779c"/>
<rect x="455" y="597" width="1" height="1" fill="#6a779c"/>
<rect x="574" y="602" width="1" height="1" fill="#6a779c"/>
<rect x="475" y="645" width="1" height="1" fill="#6a779c"/>
<rect x="464" y="489" width="2" height="1" fill="#6a779c"/>
<rect x="584" y="596" width="1" height="1" fill="#6a779c"/>
<rect x="545" y="551" width="1" height="1" fill="#6a779c"/>
<rect x="525" y="514" width="1" height="1" fill="#6a779c"/>
<rect x="648" y="525" width="1" height="1" fill="#6a779c"/>
<rect x="477" y="505" width="1" height="1" fill="#6a779c"/>
<rect x="561" y="567" width="1" height="1" fill="#6a779c"/>
<rect x="542" y="458" width="1" height="1" fill="#6a779c"/>
<rect x="620" y="517" width="1" height="2" fill="#6a779c"/>
<rect x="520" y="645" width="1" height="2" fill="#6a779c"/>
<rect x="533" y="589" width="1" height="2" fill="#6a779c"/>
<rect x="590" y="550" width="1" height="1" fill="#6a779c"/>
<rect x="515" y="614" width="1" height="2" fill="#6a779c"/>
<rect x="510" y="527" width="1" height="1" fill="#6a779c"/>
<rect x="572" y="616" width="2" height="1" fill="#6a779c"/>
<rect x="561" y="669" width="1" height="1" fill="#6a779c"/>
<rect x="630" y="517" width="1" height="2" fill="#6a779c"/>
<rect x="437" y="582" width="1" height="1" fill="#6a779c"/>
<rect x="524" y="538" width="1" height="1" fill="#6a779c"/>
<rect x="526" y="617" width="1" height="1" fill="#6a779c"/>
<rect x="550" y="649" width="1" height="1" fill="#6a779c"/>
<rect x="570" y="515" width="1" height="1" fill="#6a779c"/>
<rect x="502" y="643" width="1" height="1" fill="#6a779c"/>
<rect x="437" y="529" width="1" height="1" fill="#6a779c"/>
<rect x="516" y="632" width="1" height="1" fill="#6a779c"/>
<rect x="575" y="665" width="1" height="1" fill="#6a779c"/>
<rect x="476" y="591" width="1" height="1" fill="#6a779c"/>
<rect x="403" y="528" width="1" height="1" fill="#6a779c"/>
<rect x="492" y="479" width="1" height="1" fill="#6a779c"/>
<rect x="553" y="510" width="2" height="1" fill="#6a779c"/>
<rect x="616" y="480" width="2" height="1" fill="#6a779c"/>
<rect x="524" y="508" width="1" height="2" fill="#6a779c"/>
<rect x="393" y="580" width="1" height="2" fill="#6a779c"/>
<rect x="554" y="651" width="1" height="1" fill="#6a779c"/>
<rect x="460" y="464" width="1" height="1" fill="#6a779c"/>
<rect x="486" y="445" width="1" height="1" fill="#6a779c"/>
<rect x="537" y="653" width="1" height="1" fill="#6a779c"/>
<rect x="496" y="582" width="2" height="1" fill="#6a779c"/>
<rect x="429" y="488" width="1" height="1" fill="#6a779c"/>
<rect x="471" y="611" width="1" height="1" fill="#6a779c"/>
<rect x="581" y="568" width="1" height="1" fill="#6a779c"/>
<rect x="564" y="472" width="1" height="1" fill="#6a779c"/>
<rect x="456" y="586" width="1" height="1" fill="#6a779c"/>
<rect x="512" y="672" width="1" height="2" fill="#6a779c"/>
<rect x="638" y="578" width="1" height="1" fill="#6a779c"/>
<rect x="430" y="474" width="1" height="1" fill="#6a779c"/>
<rect x="496" y="482" width="1" height="1" fill="#6a779c"/>
<rect x="412" y="537" width="1" height="2" fill="#6a779c"/>
<rect x="552" y="512" width="1" height="2" fill="#6a779c"/>
<rect x="452" y="556" width="2" height="1" fill="#6a779c"/>
<rect x="644" y="540" width="1" height="2" fill="#6a779c"/>
<rect x="538" y="688" width="2" height="1" fill="#6a779c"/>
<rect x="558" y="675" width="1" height="1" fill="#6a779c"/>
<rect x="429" y="483" width="2" height="1" fill="#6a779c"/>
<rect x="558" y="519" width="1" height="2" fill="#6a779c"/>
<rect x="396" y="517" width="1" height="1" fill="#6a779c"/>
<rect x="446" y="558" width="2" height="1" fill="#6a779c"/>
<rect x="599" y="475" width="1" height="1" fill="#6a779c"/>
<rect x="393" y="570" width="1" height="1" fill="#6a779c"/>
<rect x="448" y="613" width="1" height="1" fill="#6a779c"/>
<rect x="504" y="534" width="1" height="1" fill="#6a779c"/>
<rect x="430" y="475" width="1" height="1" fill="#6a779c"/>
<rect x="641" y="615" width="1" height="2" fill="#6a779c"/>
<rect x="551" y="542" width="2" height="1" fill="#6a779c"/>
<rect x="546" y="686" width="1" height="1" fill="#6a779c"/>
<rect x="528" y="630" width="1" height="1" fill="#6a779c"/>
<rect x="642" y="602" width="1" height="1" fill="#6a779c"/>
<rect x="454" y="485" width="2" height="1" fill="#6a779c"/>
<rect x="390" y="570" width="1" height="1" fill="#6a779c"/>
<rect x="493" y="619" width="1" height="2" fill="#6a779c"/>
<rect x="421" y="579" width="1" height="1" fill="#6a779c"/>
<rect x="652" y="585" width="1" height="2" fill="#6a779c"/>
<rect x="437" y="556" width="2" height="1" fill="#6a779c"/>
<rect x="563" y="574" width="2" height="1" fill="#6a779c"/>
<rect x="480" y="537" width="1" height="1" fill="#6a779c"/>
<rect x="475" y="593" width="1" height="2" fill="#6a779c"/>
<rect x="393" y="596" width="1" height="1" fill="#6a779c"/>
<rect x="460" y="554" width="1" height="2" fill="#6a779c"/>
<rect x="595" y="633" width="1" height="2" fill="#6a779c"/>
<rect x="556" y="596" width="1" height="1" fill="#6a779c"/>
<rect x="622" y="614" width="1" height="1" fill="#6a779c"/>
<rect x="494" y="461" width="1" height="1" fill="#6a779c"/>
<rect x="623" y="618" width="1" height="1" fill="#6a779c"/>
<rect x="460" y="553" width="1" height="1" fill="#6a779c"/>
<rect x="546" y="499" width="1" height="1" fill="#6a779c"/>
<rect x="476" y="452" width="1" height="1" fill="#6a779c"/>
<rect x="496" y="471" width="1" height="2" fill="#6a779c"/>
<rect x="446" y="509" width="2" height="1" fill="#6a779c"/>
<rect x="507" y="639" width="1" height="1" fill="#6a779c"/>
<rect x="548" y="516" width="1" height="1" fill="#6a779c"/>
<rect x="558" y="565" width="1" height="1" fill="#6a779c"/>
<rect x="484" y="664" width="1" height="2" fill="#6a779c"/>
<rect x="633" y="576" width="1" height="1" fill="#6a779c"/>
<rect x="538" y="626" width="2" height="1" fill="#6a779c"/>
<rect x="481" y="628" width="2" height="1" fill="#6a779c"/>
<rect x="575" y="484" width="1" height="1" fill="#6a779c"/>
<rect x="481" y="482" width="1" height="1" fill="#6a779c"/>
<rect x="495" y="615" width="1" height="2" fill="#6a779c"/>
<rect x="523" y="519" width="2" height="1" fill="#6a779c"/>
<rect x="396" y="576" width="1" height="2" fill="#6a779c"/>
<rect x="469" y="524" width="1" height="1" fill="#6a779c"/>
<rect x="500" y="545" width="2" height="1" fill="#6a779c"/>
<rect x="628" y="507" width="1" height="1" fill="#6a779c"/>
<rect x="474" y="536" width="1" height="2" fill="#6a779c"/>
<rect x="443" y="620" width="2" height="1" fill="#6a779c"/>
<rect x="526" y="632" width="1" height="1" fill="#6a779c"/>
<rect x="500" y="480" width="1" height="1" fill="#6a779c"/>
<rect x="580" y="513" width="1" height="1" fill="#6a779c"/>
<rect x="459" y="500" width="1" height="2" fill="#6a779c"/>
<rect x="528" y="607" width="1" height="1" fill="#6a779c"/>
<rect x="512" y="692" width="1" height="1" fill="#6a779c"/>
<rect x="455" y="623" width="1" height="1" fill="#6a779c"/>
<rect x="447" y="497" width="1" height="1" fill="#6a779c"/>
<rect x="644" y="523" width="1" height="1" fill="#6a779c"/>
<rect x="539" y="478" width="1" height="1" fill="#6a779c"/>
<rect x="532" y="598" width="1" height="1" fill="#6a779c"/>
<rect x="532" y="648" width="1" height="1" fill="#6a779c"/>
<rect x="548" y="488" width="1" height="1" fill="#6a779c"/>
<rect x="471" y="524" width="1" height="1" fill="#6a779c"/>
<rect x="414" y="567" width="1" height="1" fill="#6a779c"/>
<rect x="626" y="589" width="1" height="1" fill="#6a779c"/>
<rect x="641" y="602" width="1" height="1" fill="#6a779c"/>
<rect x="628" y="616" width="1" height="1" fill="#6a779c"/>
<rect x="488" y="579" width="1" height="1" fill="#6a779c"/>
<rect x="530" y="486" width="2" height="1" fill="#6a779c"/>
<rect x="419" y="605" width="1" height="2" fill="#6a779c"/>
<rect x="473" y="590" width="2" height="1" fill="#6a779c"/>
<rect x="562" y="487" width="1" height="1" fill="#6a779c"/>
<rect x="583" y="452" width="2" height="1" fill="#6a779c"/>
<rect x="437" y="505" width="2" height="1" fill="#6a779c"/>
<rect x="583" y="590" width="2" height="1" fill="#6a779c"/>
<rect x="573" y="646" width="2" height="1" fill="#6a779c"/>
<rect x="561" y="489" width="1" height="1" fill="#6a779c"/>
<rect x="492" y="653" width="1" height="1" fill="#6a779c"/>
<rect x="555" y="561" width="1" height="1" fill="#6a779c"/>
<rect x="407" y="541" width="1" height="1" fill="#6a779c"/>
<rect x="620" y="650" width="1" height="1" fill="#6a779c"/>
<rect x="477" y="607" width="1" height="1" fill="#6a779c"/>
<rect x="611" y="602" width="1" height="2" fill="#6a779c"/>
<rect x="638" y="597" width="1" height="1" fill="#6a779c"/>
<rect x="471" y="555" width="2" height="1" fill="#6a779c"/>
<rect x="491" y="514" width="1" height="1" fill="#6a779c"/>
<rect x="576" y="533" width="2" height="1" fill="#6a779c"/>
<rect x="452" y="526" width="2" height="1" fill="#6a779c"/>
<rect x="504" y="468" width="1" height="1" fill="#6a779c"/>
<rect x="421" y="601" width="1" height="1" fill="#6a779c"/>
<rect x="497" y="450" width="1" height="1" fill="#6a779c"/>
<rect x="615" y="606" width="1" height="1" fill="#6a779c"/>
<rect x="459" y="620" width="1" height="1" fill="#6a779c"/>
<rect x="575" y="661" width="1" height="1" fill="#6a779c"/>
<rect x="569" y="550" width="1" height="1" fill="#6a779c"/>
<rect x="429" y="596" width="1" height="2" fill="#6a779c"/>
<rect x="502" y="670" width="1" height="1" fill="#6a779c"/>
<rect x="479" y="577" width="1" height="2" fill="#6a779c"/>
<rect x="482" y="592" width="1" height="1" fill="#6a779c"/>
<rect x="530" y="483" width="1" height="1" fill="#6a779c"/>
<rect x="518" y="587" width="1" height="1" fill="#6a779c"/>
<rect x="499" y="662" width="1" height="1" fill="#6a779c"/>
<rect x="458" y="543" width="1" height="1" fill="#6a779c"/>
<rect x="480" y="463" width="1" height="1" fill="#6a779c"/>
<rect x="519" y="679" width="1" height="1" fill="#6a779c"/>
<rect x="582" y="610" width="1" height="2" fill="#6a779c"/>
<rect x="433" y="599" width="1" height="1" fill="#6a779c"/>
<rect x="533" y="673" width="1" height="2" fill="#6a779c"/>
<rect x="398" y="575" width="1" height="1" fill="#6a779c"/>
<rect x="532" y="588" width="1" height="2" fill="#6a779c"/>
<rect x="551" y="584" width="1" height="1" fill="#6a779c"/>
<rect x="408" y="590" width="1" height="2" fill="#6a779c"/>
<rect x="504" y="553" width="1" height="1" fill="#6a779c"/>
<rect x="489" y="531" width="1" height="1" fill="#6a779c"/>
<rect x="459" y="514" width="1" height="1" fill="#6a779c"/>
<rect x="400" y="561" width="1" height="1" fill="#6a779c"/>
<rect x="578" y="532" width="1" height="1" fill="#6a779c"/>
<rect x="508" y="467" width="1" height="1" fill="#6a779c"/>
<rect x="608" y="572" width="1" height="1" fill="#6a779c"/>
<rect x="599" y="608" width="1" height="2" fill="#6a779c"/>
<rect x="423" y="488" width="1" height="1" fill="#6a779c"/>
<rect x="526" y="669" width="1" height="2" fill="#6a779c"/>
<rect x="473" y="604" width="1" height="1" fill="#6a779c"/>
<rect x="591" y="521" width="1" height="1" fill="#6a779c"/>
<rect x="580" y="513" width="1" height="1" fill="#6a779c"/>
<rect x="522" y="502" width="1" height="1" fill="#6a779c"/>
<rect x="524" y="625" width="1" height="1" fill="#6a779c"/>
<rect x="453" y="498" width="2" height="1" fill="#6a779c"/>
<rect x="515" y="611" width="1" height="1" fill="#6a779c"/>
<rect x="575" y="625" width="1" height="1" fill="#6a779c"/>
<rect x="449" y="472" width="1" height="1" fill="#6a779c"/>
<rect x="547" y="496" width="2" height="1" fill="#6a779c"/>
<rect x="449" y="467" width="1" height="1" fill="#6a779c"/>
<rect x="578" y="531" width="1" height="1" fill="#6a779c"/>
<rect x="580" y="661" width="1" height="2" fill="#6a779c"/>
<rect x="431" y="611" width="1" height="1" fill="#6a779c"/>
<rect x="549" y="670" width="1" height="1" fill="#6a779c"/>
<rect x="538" y="581" width="1" height="1" fill="#6a779c"/>
<rect x="491" y="506" width="1" height="2" fill="#6a779c"/>
<rect x="529" y="461" width="1" height="1" fill="#6a779c"/>
<rect x="588" y="665" width="1" height="2" fill="#6a779c"/>
<rect x="430" y="474" width="1" height="1" fill="#6a779c"/>
<rect x="562" y="567" width="1" height="1" fill="#6a779c"/>
<rect x="479" y="641" width="2" height="1" fill="#6a779c"/>
<rect x="576" y="522" width="1" height="1" fill="#6a779c"/>
<rect x="417" y="509" width="1" height="1" fill="#6a779c"/>
<rect x="557" y="676" width="2" height="1" fill="#6a779c"/>
<rect x="454" y="598" width="1" height="1" fill="#6a779c"/>
<rect x="479" y="505" width="1" height="2" fill="#6a779c"/>
<rect x="636" y="568" width="1" height="1" fill="#6a779c"/>
<rect x="522" y="645" width="1" height="2" fill="#6a779c"/>
<rect x="418" y="501" width="1" height="1" fill="#6a779c"/>
<rect x="593" y="638" width="1" height="1" fill="#6a779c"/>
<rect x="622" y="630" width="1" height="2" fill="#6a779c"/>
<rect x="401" y="525" width="1" height="1" fill="#6a779c"/>
<rect x="594" y="612" width="1" height="1" fill="#6a779c"/>
<rect x="559" y="628" width="1" height="1" fill="#6a779c"/>
<rect x="623" y="631" width="1" height="1" fill="#6a779c"/>
<rect x="519" y="508" width="1" height="1" fill="#6a779c"/>
<rect x="492" y="601" width="1" height="2" fill="#6a779c"/>
<rect x="555" y="442" width="1" height="1" fill="#6a779c"/>
<rect x="649" y="592" width="2" height="1" fill="#6a779c"/>
<rect x="534" y="678" width="1" height="1" fill="#6a779c"/>
<rect x="474" y="470" width="1" height="1" fill="#6a779c"/>
<rect x="487" y="484" width="1" height="1" fill="#6a779c"/>
<rect x="617" y="504" width="1" height="1" fill="#6a779c"/>
<rect x="416" y="518" width="1" height="1" fill="#6a779c"/>
<rect x="590" y="519" width="1" height="1" fill="#6a779c"/>
<rect x="644" y="554" width="1" height="1" fill="#6a779c"/>
<rect x="549" y="571" width="1" height="1" fill="#6a779c"/>
<rect x="423" y="556" width="2" height="1" fill="#6a779c"/>
<rect x="422" y="561" width="2" height="1" fill="#6a779c"/>
<rect x="494" y="472" width="2" height="1" fill="#6a779c"/>
<rect x="469" y="472" width="1" height="2" fill="#6a779c"/>
<rect x="539" y="519" width="2" height="1" fill="#6a779c"/>
<rect x="493" y="530" width="1" height="1" fill="#6a779c"/>
<rect x="643" y="566" width="1" height="1" fill="#6a779c"/>
<rect x="580" y="530" width="1" height="1" fill="#6a779c"/>
<rect x="478" y="464" width="1" height="1" fill="#6a779c"/>
<rect x="581" y="527" width="1" height="2" fill="#6a779c"/>
<rect x="577" y="580" width="1" height="1" fill="#6a779c"/>
<rect x="471" y="513" width="1" height="2" fill="#6a779c"/>
<rect x="486" y="610" width="1" height="1" fill="#6a779c"/>
<rect x="639" y="568" width="1" height="1" fill="#6a779c"/>
<rect x="442" y="502" width="2" height="1" fill="#6a779c"/>
<rect x="436" y="511" width="2" height="1" fill="#6a779c"/>
<rect x="563" y="610" width="1" height="2" fill="#6a779c"/>
<rect x="497" y="631" width="1" height="1" fill="#6a779c"/>
<rect x="605" y="644" width="1" height="2" fill="#6a779c"/>
<rect x="474" y="555" width="1" height="1" fill="#6a779c"/>
<rect x="634" y="632" width="1" height="1" fill="#6a779c"/>
<rect x="608" y="573" width="1" height="1" fill="#6a779c"/>
<rect x="595" y="519" width="1" height="1" fill="#6a779c"/>
<rect x="518" y="480" width="1" height="2" fill="#6a779c"/>
<rect x="627" y="639" width="2" height="1" fill="#6a779c"/>
<rect x="563" y="610" width="1" height="2" fill="#6a779c"/>
<rect x="586" y="670" width="1" height="1" fill="#6a779c"/>
<rect x="633" y="634" width="1" height="1" fill="#6a779c"/>
<rect x="573" y="642" width="1" height="1" fill="#6a779c"/>
<rect x="428" y="505" width="1" height="2" fill="#6a779c"/>
<rect x="614" y="652" width="1" height="1" fill="#6a779c"/>
<rect x="452" y="611" width="1" height="1" fill="#6a779c"/>
<rect x="537" y="499" width="1" height="1" fill="#6a779c"/>
<rect x="507" y="654" width="1" height="1" fill="#6a779c"/>
<rect x="452" y="600" width="2" height="1" fill="#6a779c"/>
<rect x="449" y="601" width="1" height="2" fill="#6a779c"/>
<rect x="552" y="509" width="1" height="1" fill="#6a779c"/>
<rect x="535" y="510" width="2" height="1" fill="#6a779c"/>
<rect x="489" y="538" width="2" height="1" fill="#6a779c"/>
<rect x="424" y="601" width="2" height="1" fill="#6a779c"/>
<rect x="471" y="448" width="1" height="1" fill="#6a779c"/>
<rect x="585" y="590" width="1" height="2" fill="#6a779c"/>
<rect x="580" y="647" width="1" height="2" fill="#6a779c"/>
<rect x="550" y="641" width="1" height="1" fill="#6a779c"/>
<rect x="632" y="608" width="1" height="1" fill="#6a779c"/>
<rect x="442" y="505" width="1" height="2" fill="#6a779c"/>
<rect x="493" y="641" width="1" height="1" fill="#6a779c"/>
<rect x="583" y="669" width="1" height="1" fill="#6a779c"/>
<rect x="424" y="477" width="1" height="2" fill="#6a779c"/>
<rect x="576" y="680" width="1" height="1" fill="#6a779c"/>
<rect x="593" y="555" width="1" height="1" fill="#6a779c"/>
<rect x="539" y="516" width="1" height="1" fill="#6a779c"/>
<rect x="475" y="496" width="1" height="1" fill="#6a779c"/>
<rect x="610" y="487" width="1" height="1" fill="#6a779c"/>
<rect x="576" y="470" width="1" height="1" fill="#6a779c"/>
<rect x="489" y="529" width="1" height="1" fill="#6a779c"/>
<rect x="510" y="665" width="1" height="1" fill="#6a779c"/>
<rect x="530" y="524" width="1" height="1" fill="#6a779c"/>
<rect x="496" y="607" width="1" height="1" fill="#6a779c"/>
<rect x="497" y="491" width="1" height="1"/>
<rect x="451" y="495" width="1" height="1"/>
<rect x="480" y="518" width="1" height="1"/>
<rect x="476" y="498" width="2" height="1"/>
<rect x="489" y="500" width="1" height="1"/>
<rect x="505" y="494" width="2" height="2"/>
<rect x="478" y="499" width="1" height="1"/>
<rect x="468" y="490" width="2" height="1"/>
<rect x="497" y="476" width="3" height="1"/>
<rect x="506" y="475" width="2" height="1"/>
<rect x="462" y="483" width="2" height="2"/>
<rect x="467" y="506" width="2" height="1"/>
<rect x="467" y="503" width="2" height="2"/>
<rect x="477" y="506" width="1" height="1"/>
<rect x="530" y="514" width="2" height="1"/>
<rect x="457" y="507" width="2" height="2"/>
<rect x="456" y="516" width="1" height="1"/>
<rect x="451" y="513" width="1" height="2"/>
<rect x="497" y="500" width="1" height="1"/>
<rect x="470" y="485" width="1" height="1"/>
<rect x="449" y="505" width="1" height="2"/>
<rect x="446" y="505" width="1" height="2"/>
<rect x="479" y="521" width="2" height="1"/>
<rect x="464" y="501" width="2" height="2"/>
<rect x="456" y="485" width="3" height="1"/>
<rect x="495" y="496" width="2" height="2"/>
<rect x="453" y="496" width="1" height="3"/>
<rect x="433" y="519" width="1" height="1"/>
<rect x="507" y="496" width="1" height="1"/>
<rect x="449" y="489" width="1" height="1"/>
<rect x="480" y="533" width="2" height="2"/>
<rect x="530" y="514" width="1" height="1"/>
<rect x="507" y="524" width="1" height="1"/>
<rect x="459" y="488" width="1" height="1"/>
<rect x="524" y="510" width="2" height="1"/>
<rect x="502" y="509" width="1" height="1"/>
<rect x="470" y="495" width="1" height="1"/>
<rect x="459" y="496" width="2" height="1"/>
<rect x="531" y="517" width="2" height="1"/>
<rect x="465" y="493" width="1" height="1"/>
<rect x="504" y="483" width="2" height="1"/>
<rect x="536" y="497" width="2" height="1"/>
<rect x="446" y="495" width="1" height="2"/>
<rect x="495" y="521" width="2" height="2"/>
<rect x="452" y="496" width="1" height="2"/>
<rect x="492" y="514" width="2" height="2"/>
<rect x="467" y="494" width="2" height="1"/>
<rect x="474" y="536" width="1" height="1"/>
<rect x="471" y="476" width="1" height="1"/>
<rect x="499" y="503" width="1" height="1"/>
<rect x="500" y="512" width="2" height="1"/>
<rect x="458" y="514" width="1" height="2"/>
<rect x="487" y="491" width="2" height="1"/>
<rect x="463" y="503" width="1" height="1"/>
<rect x="498" y="526" width="1" height="1"/>
<rect x="505" y="526" width="1" height="1"/>
<rect x="488" y="491" width="2" height="2"/>
<rect x="463" y="527" width="1" height="2"/>
<rect x="490" y="510" width="2" height="2"/>
<rect x="476" y="511" width="2" height="1"/>
<rect x="507" y="489" width="2" height="2"/>
<rect x="500" y="498" width="2" height="1"/>
<rect x="466" y="513" width="1" height="2"/>
<rect x="485" y="497" width="2" height="1"/>
<rect x="498" y="490" width="2" height="1"/>
<rect x="496" y="488" width="1" height="1"/>
<rect x="454" y="512" width="1" height="2"/>
<rect x="464" y="509" width="1" height="2"/>
<rect x="468" y="522" width="1" height="2"/>
<rect x="485" y="511" width="2" height="1"/>
<rect x="470" y="505" width="2" height="2"/>
<rect x="493" y="523" width="1" height="1"/>
<rect x="480" y="491" width="1" height="1"/>
<rect x="487" y="486" width="2" height="2"/>
<rect x="484" y="539" width="1" height="1"/>
<rect x="484" y="502" width="2" height="1"/>
<rect x="486" y="516" width="2" height="1"/>
<rect x="461" y="509" width="1" height="2"/>
<rect x="470" y="526" width="1" height="2"/>
<rect x="472" y="522" width="1" height="2"/>
<rect x="464" y="500" width="2" height="1"/>
<rect x="511" y="486" width="2" height="1"/>
<rect x="491" y="534" width="1" height="1"/>
<rect x="445" y="506" width="1" height="2"/>
<rect x="512" y="494" width="2" height="2"/>
<rect x="509" y="508" width="1" height="1"/>
<rect x="475" y="532" width="1" height="2"/>
<rect x="516" y="505" width="2" height="1"/>
<rect x="458" y="501" width="2" height="1"/>
<rect x="466" y="482" width="1" height="1"/>
<rect x="525" y="493" width="2" height="2"/>
<rect x="479" y="496" width="2" height="1"/>
<rect x="506" y="493" width="1" height="1"/>
<rect x="529" y="491" width="1" height="1"/>
<rect x="442" y="530" width="1" height="2"/>
<rect x="462" y="529" width="1" height="2"/>
<rect x="510" y="512" width="1" height="1"/>
<rect x="469" y="511" width="2" height="2"/>
<rect x="481" y="500" width="2" height="2"/>
<rect x="485" y="487" width="2" height="1"/>
<rect x="494" y="505" width="2" height="1"/>
<rect x="438" y="519" width="1" height="2"/>
<rect x="498" y="513" width="1" height="1"/>
<rect x="473" y="511" width="1" height="1"/>
<rect x="464" y="490" width="2" height="1"/>
<rect x="449" y="489" width="3" height="1"/>
<rect x="490" y="491" width="1" height="1"/>
<rect x="450" y="510" width="1" height="2"/>
<rect x="455" y="513" width="1" height="1"/>
<rect x="467" y="529" width="1" height="2"/>
<rect x="503" y="513" width="1" height="1"/>
<rect x="458" y="510" width="1" height="2"/>
<rect x="467" y="537" width="2" height="2"/>
<rect x="462" y="509" width="1" height="2"/>
<rect x="528" y="525" width="1" height="1"/>
<rect x="469" y="514" width="2" height="2"/>
<rect x="504" y="499" width="2" height="2"/>
<rect x="471" y="506" width="2" height="1"/>
<rect x="456" y="518" width="2" height="2"/>
<rect x="460" y="495" width="2" height="2"/>
<rect x="525" y="492" width="1" height="1"/>
<rect x="457" y="489" width="1" height="1"/>
<rect x="469" y="475" width="1" height="1"/>
<rect x="532" y="500" width="2" height="1"/>
<rect x="476" y="513" width="2" height="1"/>
<rect x="490" y="516" width="2" height="2"/>
<rect x="483" y="480" width="2" height="2"/>
<rect x="471" y="524" width="1" height="1"/>
<rect x="495" y="481" width="2" height="1"/>
<rect x="455" y="494" width="3" height="1"/>
<rect x="500" y="494" width="1" height="1"/>
<rect x="479" y="510" width="1" height="1"/>
<rect x="469" y="487" width="3" height="1"/>
<rect x="466" y="495" width="2" height="2"/>
<rect x="444" y="511" width="1" height="2"/>
<rect x="526" y="487" width="1" height="1"/>
<rect x="517" y="529" width="2" height="1"/>
<rect x="516" y="515" width="1" height="1"/>
<rect x="504" y="516" width="2" height="1"/>
<rect x="456" y="502" width="1" height="2"/>
<rect x="469" y="494" width="2" height="2"/>
<rect x="472" y="518" width="1" height="2"/>
<rect x="482" y="532" width="1" height="2"/>
<rect x="501" y="517" width="1" height="1"/>
<rect x="480" y="520" width="1" height="1"/>
<rect x="453" y="529" width="2" height="2"/>
<rect x="481" y="518" width="2" height="2"/>
<rect x="511" y="489" width="2" height="1"/>
<rect x="495" y="507" width="1" height="1"/>
<rect x="519" y="489" width="2" height="2"/>
<rect x="460" y="495" width="1" height="1"/>
<rect x="473" y="525" width="1" height="2"/>
<rect x="456" y="526" width="1" height="1"/>
<rect x="506" y="486" width="2" height="1"/>
<rect x="468" y="481" width="2" height="1"/>
<rect x="492" y="520" width="2" height="2"/>
<rect x="527" y="513" width="2" height="1"/>
<rect x="518" y="502" width="1" height="1"/>
<rect x="519" y="491" width="2" height="1"/>
<rect x="457" y="501" width="1" height="2"/>
<rect x="525" y="521" width="1" height="2"/>
<rect x="519" y="507" width="1" height="1"/>
<rect x="513" y="517" width="2" height="1"/>
<rect x="455" y="507" width="1" height="1"/>
<rect x="516" y="478" width="2" height="1"/>
<rect x="464" y="520" width="1" height="2"/>
<rect x="495" y="506" width="2" height="1"/>
<rect x="496" y="526" width="1" height="1"/>
<rect x="510" y="499" width="2" height="1"/>
<rect x="505" y="513" width="2" height="1"/>
<rect x="505" y="536" width="1" height="1"/>
<rect x="452" y="494" width="1" height="1"/>
<rect x="478" y="506" width="1" height="1"/>
<rect x="501" y="536" width="1" height="1"/>
<rect x="532" y="515" width="2" height="1"/>
<rect x="489" y="536" width="1" height="2"/>
<rect x="492" y="517" width="1" height="1"/>
<rect x="504" y="519" width="2" height="2"/>
<rect x="467" y="481" width="2" height="1"/>
<rect x="504" y="532" width="1" height="1"/>
<rect x="516" y="527" width="1" height="1"/>
<rect x="478" y="515" width="2" height="1"/>
<rect x="508" y="495" width="2" height="1"/>
<rect x="462" y="522" width="1" height="2"/>
<rect x="470" y="531" width="1" height="2"/>
<rect x="511" y="510" width="1" height="1"/>
<rect x="483" y="522" width="2" height="1"/>
<rect x="515" y="524" width="1" height="1"/>
<rect x="528" y="491" width="2" height="2"/>
<rect x="503" y="515" width="2" height="1"/>
<rect x="464" y="535" width="1" height="1"/>
<rect x="513" y="515" width="1" height="1"/>
<rect x="501" y="535" width="1" height="1"/>
<rect x="535" y="518" width="2" height="1"/>
<rect x="490" y="524" width="2" height="2"/>
<rect x="529" y="520" width="1" height="2"/>
<rect x="476" y="496" width="1" height="1"/>
<rect x="504" y="523" width="1" height="1"/>
<rect x="468" y="497" width="2" height="1"/>
<rect x="480" y="500" width="2" height="1"/>
<rect x="476" y="526" width="2" height="2"/>
<rect x="469" y="503" width="2" height="1"/>
<rect x="455" y="499" width="1" height="2"/>
<rect x="488" y="496" width="2" height="2"/>
<rect x="461" y="495" width="2" height="1"/>
<rect x="452" y="511" width="1" height="2"/>
<rect x="446" y="515" width="1" height="2"/>
<rect x="495" y="518" width="2" height="2"/>
<rect x="475" y="491" width="2" height="1"/>
<rect x="465" y="527" width="1" height="2"/>
<rect x="484" y="513" width="2" height="1"/>
<rect x="494" y="489" width="2" height="1"/>
<rect x="498" y="515" width="1" height="1"/>
<rect x="476" y="512" width="2" height="1"/>
<rect x="480" y="529" width="1" height="1"/>
<rect x="448" y="517" width="1" height="2"/>
<rect x="466" y="528" width="2" height="2"/>
<rect x="509" y="512" width="2" height="1"/>
<rect x="459" y="500" width="2" height="1"/>
<rect x="486" y="514" width="2" height="1"/>
<rect x="491" y="501" width="2" height="1"/>
<rect x="486" y="526" width="2" height="1"/>
<rect x="493" y="487" width="2" height="1"/>
<rect x="464" y="522" width="1" height="2"/>
<rect x="499" y="513" width="2" height="1"/>
<rect x="456" y="498" width="2" height="1"/>
<rect x="497" y="492" width="2" height="1"/>
<rect x="480" y="500" width="1" height="1"/>
<rect x="470" y="498" width="2" height="1"/>
<rect x="451" y="498" width="2" height="2"/>
<rect x="467" y="513" width="2" height="2"/>
<rect x="488" y="522" width="2" height="1"/>
<rect x="467" y="526" width="1" height="2"/>
<rect x="485" y="492" width="2" height="1"/>
<rect x="450" y="498" width="1" height="3"/>
<rect x="483" y="494" width="2" height="1"/>
<rect x="467" y="500" width="1" height="1"/>
<rect x="464" y="510" width="1" height="1"/>
<rect x="454" y="496" width="2" height="2"/>
<rect x="473" y="505" width="1" height="1"/>
<rect x="455" y="531" width="1" height="2"/>
<rect x="468" y="505" width="2" height="1"/>
<rect x="443" y="522" width="1" height="1"/>
<rect x="487" y="503" width="2" height="2"/>
<rect x="490" y="511" width="2" height="1"/>
<rect x="492" y="502" width="1" height="1"/>
<rect x="538" y="467" width="2" height="1"/>
<rect x="542" y="467" width="1" height="1"/>
<rect x="546" y="466" width="1" height="1"/>
<rect x="500" y="486" width="1" height="1"/>
<rect x="526" y="466" width="2" height="1"/>
<rect x="496" y="486" width="2" height="2"/>
<rect x="502" y="477" width="1" height="1"/>
<rect x="550" y="462" width="2" height="2"/>
<rect x="512" y="474" width="2" height="2"/>
<rect x="558" y="469" width="2" height="1"/>
<rect x="457" y="482" width="2" height="1"/>
<rect x="503" y="453" width="2" height="2"/>
<rect x="483" y="468" width="2" height="1"/>
<rect x="441" y="460" width="1" height="1"/>
<rect x="517" y="468" width="2" height="1"/>
<rect x="509" y="466" width="2" height="1"/>
<rect x="511" y="445" width="3" height="1"/>
<rect x="493" y="458" width="2" height="1"/>
<rect x="524" y="480" width="2" height="1"/>
<rect x="535" y="477" width="1" height="1"/>
<rect x="495" y="457" width="2" height="2"/>
<rect x="537" y="465" width="2" height="1"/>
<rect x="526" y="478" width="2" height="1"/>
<rect x="484" y="460" width="1" height="1"/>
<rect x="504" y="473" width="2" height="1"/>
<rect x="473" y="466" width="1" height="1"/>
<rect x="451" y="464" width="3" height="1"/>
<rect x="505" y="476" width="1" height="1"/>
<rect x="499" y="474" width="3" height="1"/>
<rect x="438" y="475" width="3" height="1"/>
<rect x="589" y="633" width="2" height="2"/>
<rect x="571" y="673" width="2" height="1"/>
<rect x="552" y="682" width="3" height="1"/>
<rect x="553" y="648" width="1" height="1"/>
<rect x="582" y="637" width="2" height="1"/>
<rect x="550" y="646" width="1" height="1"/>
<rect x="587" y="668" width="1" height="1"/>
<rect x="547" y="623" width="2" height="2"/>
<rect x="570" y="634" width="2" height="1"/>
<rect x="550" y="640" width="1" height="1"/>
<rect x="571" y="661" width="1" height="1"/>
<rect x="565" y="651" width="2" height="1"/>
<rect x="582" y="672" width="2" height="1"/>
<rect x="580" y="641" width="2" height="1"/>
<rect x="531" y="643" width="2" height="2"/>
<rect x="567" y="616" width="2" height="2"/>
<rect x="543" y="648" width="3" height="1"/>
<rect x="575" y="621" width="2" height="2"/>
<rect x="588" y="658" width="3" height="1"/>
<rect x="581" y="620" width="1" height="1"/>
<rect x="593" y="633" width="1" height="1"/>
<rect x="552" y="657" width="2" height="1"/>
<rect x="558" y="688" width="3" height="1"/>
<rect x="544" y="692" width="1" height="1"/>
<rect x="582" y="626" width="2" height="1"/>
<rect x="566" y="622" width="2" height="1"/>
<rect x="565" y="651" width="2" height="1"/>
<rect x="550" y="685" width="1" height="1"/>
<rect x="608" y="665" width="3" height="1"/>
<rect x="569" y="629" width="2" height="1"/>
<rect x="583" y="680" width="1" height="1"/>
<rect x="576" y="673" width="1" height="1"/>
<rect x="580" y="619" width="1" height="2"/>
<rect x="554" y="682" width="1" height="1"/>
<rect x="571" y="604" width="2" height="2"/>
<rect x="580" y="671" width="2" height="1"/>
<rect x="563" y="617" width="2" height="1"/>
<rect x="531" y="665" width="1" height="1"/>
<rect x="549" y="633" width="2" height="1"/>
<rect x="529" y="646" width="2" height="1"/>
<rect x="530" y="625" width="2" height="1"/>
<rect x="554" y="625" width="2" height="1"/>
<rect x="549" y="606" width="1" height="1"/>
<rect x="541" y="689" width="2" height="1"/>
<rect x="570" y="679" width="3" height="1"/>
<rect x="554" y="665" width="2" height="1"/>
<rect x="565" y="665" width="2" height="1"/>
<rect x="600" y="671" width="1" height="1"/>
<rect x="592" y="664" width="3" height="1"/>
<rect x="573" y="645" width="2" height="2"/>
<rect x="576" y="638" width="1" height="1"/>
<rect x="553" y="679" width="2" height="1"/>
<rect x="579" y="621" width="1" height="2"/>
<rect x="549" y="662" width="3" height="1"/>
<rect x="572" y="662" width="1" height="1"/>
<rect x="530" y="628" width="2" height="2"/>
<rect x="544" y="671" width="3" height="1"/>
<rect x="538" y="655" width="2" height="2"/>
<rect x="557" y="682" width="3" height="1"/>
<rect x="550" y="615" width="2" height="1"/>
<rect x="551" y="645" width="2" height="1"/>
<rect x="527" y="644" width="2" height="1"/>
<rect x="581" y="652" width="2" height="1"/>
<rect x="576" y="645" width="1" height="1"/>
<rect x="601" y="676" width="3" height="1"/>
<rect x="565" y="651" width="2" height="1"/>
<rect x="578" y="619" width="2" height="2"/>
<rect x="552" y="666" width="2" height="1"/>
<rect x="557" y="681" width="2" height="2"/>
<rect x="586" y="617" width="1" height="1"/>
<rect x="570" y="646" width="2" height="1"/>
<rect x="567" y="656" width="1" height="1"/>
<rect x="548" y="670" width="2" height="2"/>
<rect x="571" y="634" width="2" height="1"/>
<rect x="564" y="674" width="3" height="1"/>
<rect x="582" y="685" width="3" height="1"/>
<rect x="571" y="677" width="1" height="1"/>
<rect x="534" y="626" width="2" height="2"/>
<rect x="569" y="657" width="2" height="1"/>
<rect x="585" y="665" width="2" height="2"/>
<rect x="547" y="665" width="3" height="1"/>
<rect x="567" y="634" width="1" height="1"/>
<rect x="609" y="669" width="3" height="1"/>
<rect x="551" y="690" width="1" height="1"/>
<rect x="593" y="688" width="1" height="1"/>
<rect x="552" y="618" width="2" height="1"/>
<rect x="559" y="649" width="2" height="1"/>
<rect x="541" y="669" width="3" height="1"/>
<rect x="558" y="667" width="2" height="2"/>
<rect x="563" y="686" width="2" height="1"/>
<rect x="574" y="653" width="1" height="1"/>
<rect x="557" y="665" width="2" height="2"/>
<rect x="597" y="666" width="2" height="1"/>
<rect x="587" y="656" width="1" height="1"/>
<rect x="563" y="602" width="1" height="2"/>
<rect x="586" y="642" width="2" height="1"/>
<rect x="561" y="623" width="1" height="1"/>
<rect x="540" y="684" width="3" height="1"/>
<rect x="585" y="658" width="3" height="1"/>
<rect x="527" y="669" width="2" height="1"/>
<rect x="569" y="614" width="2" height="1"/>
<rect x="586" y="644" width="3" height="1"/>
<rect x="571" y="637" width="3" height="1"/>
<rect x="556" y="613" width="2" height="2"/>
<rect x="580" y="676" width="2" height="1"/>
<rect x="555" y="640" width="2" height="1"/>
<rect x="583" y="628" width="2" height="1"/>
<rect x="557" y="677" width="3" height="1"/>
<rect x="579" y="653" width="2" height="2"/>
<rect x="548" y="627" width="2" height="1"/>
<rect x="578" y="636" width="2" height="1"/>
<rect x="544" y="653" width="2" height="1"/>
<rect x="565" y="647" width="2" height="1"/>
<rect x="543" y="614" width="2" height="1"/>
<rect x="571" y="628" width="2" height="1"/>
<rect x="573" y="633" width="2" height="1"/>
<rect x="566" y="637" width="2" height="1"/>
<rect x="561" y="622" width="2" height="1"/>
<rect x="548" y="656" width="3" height="1"/>
<rect x="570" y="616" width="2" height="1"/>
<rect x="538" y="691" width="2" height="1"/>
<rect x="582" y="646" width="3" height="1"/>
<rect x="578" y="631" width="2" height="2"/>
<rect x="571" y="687" width="2" height="1"/>
<rect x="544" y="663" width="2" height="1"/>
<rect x="583" y="668" width="1" height="1"/>
<rect x="579" y="608" width="1" height="2"/>
<rect x="571" y="618" width="2" height="2"/>
<rect x="570" y="630" width="2" height="1"/>
<rect x="547" y="654" width="2" height="2"/>
<rect x="556" y="663" width="2" height="1"/>
<rect x="546" y="628" width="2" height="2"/>
<rect x="589" y="638" width="3" height="1"/>
<rect x="591" y="626" width="2" height="2"/>
<rect x="576" y="650" width="1" height="1"/>
<rect x="568" y="658" width="2" height="2"/>
<rect x="554" y="614" width="1" height="1"/>
<rect x="525" y="651" width="1" height="1"/>
<rect x="575" y="684" width="3" height="1"/>
<rect x="563" y="644" width="2" height="1"/>
<rect x="572" y="624" width="2" height="1"/>
<rect x="540" y="650" width="2" height="1"/>
<rect x="587" y="628" width="2" height="2"/>
<rect x="571" y="643" width="2" height="1"/>
<rect x="571" y="615" width="2" height="2"/>
<rect x="531" y="657" width="2" height="1"/>
<rect x="580" y="676" width="2" height="2"/>
<rect x="538" y="622" width="1" height="1"/>
<rect x="599" y="653" width="2" height="1"/>
<rect x="570" y="622" width="2" height="1"/>
<rect x="586" y="619" width="1" height="2"/>
<rect x="540" y="666" width="2" height="2"/>
<rect x="538" y="626" width="2" height="2"/>
<rect x="560" y="666" width="2" height="2"/>
<rect x="572" y="635" width="2" height="1"/>
<rect x="582" y="652" width="2" height="2"/>
<rect x="545" y="650" width="1" height="1"/>
<rect x="586" y="670" width="1" height="1"/>
<rect x="561" y="645" width="1" height="1"/>
<rect x="576" y="628" width="2" height="2"/>
<rect x="593" y="628" width="1" height="1"/>
<rect x="603" y="679" width="3" height="1"/>
<rect x="586" y="670" width="1" height="1"/>
<rect x="589" y="628" width="1" height="2"/>
<rect x="591" y="607" width="1" height="2"/>
<rect x="590" y="664" width="2" height="1"/>
<rect x="583" y="620" width="2" height="2"/>
<rect x="583" y="644" width="2" height="1"/>
<rect x="557" y="639" width="2" height="1"/>
<rect x="571" y="640" width="1" height="1"/>
<rect x="540" y="652" width="1" height="1"/>
<rect x="551" y="618" width="2" height="2"/>
<rect x="561" y="625" width="1" height="1"/>
<rect x="547" y="645" width="2" height="1"/>
<rect x="545" y="669" width="1" height="1"/>
<rect x="578" y="629" width="2" height="2"/>
<rect x="572" y="648" width="2" height="1"/>
<rect x="565" y="657" width="2" height="1"/>
<rect x="559" y="615" width="2" height="1"/>
<rect x="561" y="625" width="2" height="1"/>
<rect x="556" y="669" width="1" height="1"/>
<rect x="581" y="636" width="2" height="2"/>
<rect x="567" y="672" width="2" height="1"/>
<rect x="589" y="637" width="2" height="1"/>
<rect x="591" y="674" width="3" height="1"/>
<rect x="540" y="681" width="1" height="1"/>
<rect x="540" y="629" width="2" height="1"/>
<rect x="547" y="651" width="2" height="1"/>
<rect x="592" y="678" width="2" height="2"/>
<rect x="568" y="619" width="1" height="1"/>
<rect x="593" y="653" width="2" height="2"/>
<rect x="571" y="672" width="3" height="1"/>
<rect x="585" y="650" width="2" height="1"/>
<rect x="567" y="621" width="2" height="1"/>
<rect x="582" y="654" width="3" height="1"/>
<rect x="539" y="682" width="2" height="1"/>
<rect x="541" y="666" width="1" height="1"/>
<rect x="611" y="654" width="1" height="1"/>
<rect x="526" y="667" width="1" height="1"/>
<rect x="546" y="625" width="2" height="1"/>
<rect x="589" y="651" width="2" height="2"/>
<rect x="574" y="628" width="2" height="1"/>
<rect x="587" y="643" width="2" height="2"/>
<rect x="574" y="661" width="2" height="2"/>
<rect x="534" y="659" width="1" height="1"/>
<rect x="552" y="641" width="2" height="2"/>
<rect x="585" y="625" width="1" height="2"/>
<rect x="544" y="653" width="2" height="1"/>
<rect x="563" y="619" width="2" height="2"/>
<rect x="575" y="634" width="2" height="1"/>
<rect x="531" y="672" width="2" height="1"/>
<rect x="554" y="681" width="2" height="1"/>
<rect x="601" y="679" width="2" height="2"/>
<rect x="552" y="636" width="2" height="2"/>
<rect x="605" y="656" width="1" height="1"/>
<rect x="571" y="613" width="1" height="2"/>
<rect x="545" y="683" width="1" height="1"/>
<rect x="556" y="626" width="2" height="1"/>
<rect x="591" y="652" width="1" height="1"/>
<rect x="560" y="634" width="1" height="1"/>
<rect x="579" y="629" width="2" height="1"/>
<rect x="564" y="671" width="2" height="1"/>
<rect x="587" y="637" width="1" height="1"/>
<rect x="578" y="650" width="2" height="2"/>
<rect x="533" y="609" width="2" height="1"/>
<rect x="563" y="658" width="1" height="1"/>
<rect x="531" y="658" width="1" height="1"/>
<rect x="550" y="647" width="1" height="1"/>
<rect x="541" y="610" width="2" height="1"/>
<rect x="567" y="652" width="2" height="2"/>
<rect x="551" y="647" width="2" height="1"/>
<rect x="604" y="673" width="2" height="1"/>
<rect x="574" y="683" width="2" height="1"/>
<rect x="560" y="629" width="2" height="1"/>
<rect x="551" y="686" width="1" height="1"/>
<rect x="581" y="671" width="2" height="1"/>
<rect x="564" y="667" width="2" height="1"/>
<rect x="573" y="671" width="2" height="2"/>
<rect x="552" y="632" width="1" height="1"/>
<rect x="545" y="624" width="2" height="1"/>
<rect x="591" y="685" width="3" height="1"/>
<rect x="572" y="662" width="3" height="1"/>
<rect x="565" y="655" width="3" height="1"/>
<rect x="587" y="678" width="1" height="1"/>
<rect x="588" y="675" width="4" height="1"/>
<rect x="574" y="682" width="4" height="1"/>
<rect x="599" y="676" width="3" height="1"/>
<rect x="576" y="665" width="2" height="2"/>
<rect x="575" y="656" width="2" height="2"/>
<rect x="581" y="686" width="3" height="1"/>
<rect x="591" y="683" width="4" height="1"/>
<rect x="579" y="649" width="3" height="1"/>
<rect x="580" y="681" width="3" height="1"/>
<rect x="584" y="671" width="1" height="1"/>
<rect x="580" y="667" width="2" height="2"/>
<rect x="577" y="676" width="1" height="1"/>
<rect x="586" y="662" width="3" height="1"/>
<rect x="575" y="664" width="1" height="1"/>
<rect x="591" y="658" width="3" height="1"/>
<rect x="580" y="664" width="3" height="1"/>
<rect x="579" y="661" width="2" height="1"/>
<rect x="590" y="658" width="2" height="2"/>
<rect x="578" y="642" width="1" height="1"/>
<rect x="599" y="666" width="2" height="2"/>
<rect x="577" y="651" width="3" height="1"/>
<rect x="589" y="680" width="3" height="1"/>
<rect x="574" y="649" width="2" height="1"/>
<rect x="590" y="672" width="2" height="2"/>
<rect x="594" y="671" width="4" height="1"/>
<rect x="563" y="668" width="1" height="1"/>
<rect x="593" y="683" width="3" height="1"/>
<rect x="587" y="653" width="1" height="1"/>
<rect x="590" y="679" width="3" height="1"/>
<rect x="581" y="683" width="4" height="1"/>
<rect x="592" y="661" width="3" height="1"/>
<rect x="588" y="679" width="1" height="1"/>
<rect x="598" y="682" width="2" height="2"/>
<rect x="573" y="675" width="1" height="1"/>
<rect x="583" y="659" width="2" height="2"/>
<rect x="580" y="676" width="1" height="1"/>
<rect x="568" y="676" width="2" height="2"/>
<rect x="598" y="686" width="3" height="1"/>
<rect x="593" y="662" width="2" height="2"/>
<rect x="592" y="668" width="1" height="1"/>
<rect x="575" y="666" width="2" height="1"/>
<rect x="588" y="673" width="2" height="2"/>
</g>
<path d="M593.5 538.0 L598.3 537.8 L602.0 536.8 L604.8 537.3 L611.1 536.1 L612.6 529.4 L614.8 525.7 L622.2 523.5 L626.6 527.2 L628.1 530.9 L636.3 533.8 L642.9 534.6 L643.7 538.3 L640.0 540.5 L637.2 546.1 L640.0 550.7 L640.9 558.1 L638.1 564.6 L635.3 569.2 L633.5 574.8 L628.9 578.5 L627.9 585.9 L625.2 588.6 L624.7 597.0 L627.0 598.8 L636.3 596.5 L644.6 594.2 L650.1 595.6 L654.8 601.1 L660.3 597.4 L664.9 596.0 L669.2 596.6 L673.3 596.9 L674.2 602.5 L678.3 606.6 L683.4 607.1 L685.0 609.1 L688.3 611.6 L691.6 615.0 L693.3 618.3 L691.6 624.1 L696.6 626.6 L702.5 630.8 L708.3 627.4 L715.0 627.4 L717.5 621.6 L720.8 622.4 L726.6 629.1 L731.6 624.1 L740.8 627.4 L742.4 628.0" fill="none" stroke="#808080" stroke-width="1.2" stroke-linejoin="round"/>
<path d="M701.5 589.1 L692.5 589.1 L690.0 595.0 L691.6 598.3 L686.6 605.8 L685.0 609.1" fill="none" stroke="#808080" stroke-width="1.2" stroke-linejoin="round"/>
<path d="M640.0 550.7 L641.8 553.5 L645.5 546.1 L647.4 545.0 L651.8 540.5 L656.3 540.5 L659.2 543.5 L665.1 542.0 L666.5 543.8" fill="none" stroke="#808080" stroke-width="1.2" stroke-linejoin="round"/>
<path d="M653.8 541.0 L652.9 558.1 L656.6 565.5 L660.0 568.3 L664.2 570.8 L668.3 574.2 L672.5 580.0 L675.0 576.7 L679.2 574.2 L684.1 573.3" fill="none" stroke="#808080" stroke-width="1.2" stroke-linejoin="round"/>
<path d="M581.0 576.0 L589.0 579.0 L593.7 580.0 L599.3 572.9 L603.9 576.6 L607.6 574.8 L610.4 574.8 L612.2 583.1 L616.8 580.3 L621.5 584.0 L627.0 586.8" fill="none" stroke="#808080" stroke-width="1.2" stroke-linejoin="round"/>
<path d="M636.3 596.5 L637.2 601.1 L632.6 605.7 L628.9 610.4 L629.8 615.0 L627.0 617.8 L627.0 621.5 L630.7 627.9 L629.8 633.5 L631.6 640.0 L641.8 641.8 L645.5 640.4 L650.1 641.3 L652.0 642.7 L654.8 641.8 L663.1 643.7 L668.6 643.7 L675.8 643.3 L689.1 645.0 L693.3 650.8 L695.8 658.3 L700.0 663.3 L703.3 665.0 L706.6 669.1 L711.6 670.0 L715.0 672.5" fill="none" stroke="#808080" stroke-width="1.2" stroke-linejoin="round"/>
<path d="M629.8 632.6 L623.3 633.5 L616.8 638.1 L611.3 635.3 L606.0 633.5" fill="none" stroke="#808080" stroke-width="1.2" stroke-linejoin="round"/>
<path d="M668.6 643.7 L671.4 639.0 L672.5 633.3 L677.5 628.3 L684.1 623.3 L691.6 624.1" fill="none" stroke="#808080" stroke-width="1.2" stroke-linejoin="round"/>
<path d="M652.0 642.7 L650.1 645.5 L652.0 651.1 L652.9 655.7 L650.5 656.0 L646.2 653.5 L642.7 656.9 L640.1 663.0 L635.8 668.2 L631.5 670.7 L629.8 673.3 L632.4 675.9 L631.5 680.3 L626.3 682.8 L622.8 682.0 L615.9 684.6 L610.7 687.2 L607.3 691.5 L605.6 684.6 L601.0 683.7" fill="none" stroke="#808080" stroke-width="1.2" stroke-linejoin="round"/>
<path d="M632.4 679.4 L638.4 677.7 L645.3 675.9 L647.0 676.8 L650.5 680.3 L654.0 684.6 L659.1 685.4 L666.1 689.8 L668.7 693.2 L666.9 700.1 L669.5 699.3 L674.7 696.7 L680.8 694.1 L683.3 702.5" fill="none" stroke="#808080" stroke-width="1.2" stroke-linejoin="round"/>
<path d="M680.8 694.1 L680.8 690.0 L681.6 684.1 L687.5 681.6 L691.6 678.3 L696.6 676.6 L694.1 674.1 L693.3 671.6 L695.8 668.3 L700.8 665.0" fill="none" stroke="#808080" stroke-width="1.2" stroke-linejoin="round"/>
<path d="M635.9 273.5 L640.0 276.5 L639.6 280.9 L642.2 282.8" fill="none" stroke="#000" stroke-width="2.85" stroke-linejoin="round" stroke-linecap="round"/>
<path d="M75.6 99.2 L80.1 99.0 L78.4 84.0 L83.5 82.9 L86.3 81.2 L88.0 81.2 L91.3 83.5 L93.0 79.6 L95.3 77.9 L98.7 79.6 L101.5 80.7 L107.1 82.4 L117.2 85.7 L132.9 92.5 L139.7 95.8 L139.7 100.3 L138.5 110.4 L143.0 114.4 L157.6 111.6 L159.9 114.9 L163.3 116.1 L168.9 112.1 L176.7 109.9 L184.6 101.5 L194.5 99.9 L200.0 97.3 L211.2 89.4 L225.8 78.2 L231.5 68.1 L233.7 54.6 L237.1 52.9 L247.2 51.8 L258.4 52.4 L262.9 56.9 L267.4 54.6 L276.4 50.1 L279.0 47.0 L277.0 43.0" fill="none" stroke="#000" stroke-width="2.85" stroke-linejoin="round" stroke-linecap="round"/>
<path d="M424.0 43.0 L425.4 46.2 L435.6 59.4 L438.7 74.2 L455.0 71.9 L462.0 77.3 L459.7 91.3 L462.0 94.4 L466.7 92.1 L482.2 93.7 L487.7 90.1 L501.7 94.4 L508.7 87.4 L514.1 85.1 L518.0 81.2 L521.9 82.8 L531.2 92.9 L534.3 106.9 L538.2 110.8 L552.2 116.2 L554.6 120.9 L566.2 122.5 L575.6 119.3 L582.6 122.5 L583.3 130.2 L593.7 127.1 L595.2 131.8 L599.9 134.9 L592.1 142.7 L592.9 149.7 L588.2 153.6 L585.9 162.9 L582.0 164.4 L578.1 175.3 L579.7 180.0 L577.3 189.3 L570.3 199.5 L575.8 203.3 L576.6 202.3 L571.1 215.6 L568.8 218.7 L564.9 219.4 L560.2 228.8 L554.8 230.3 L552.4 235.8 L552.4 245.9 L555.6 249.8 L564.1 255.2 L565.7 260.7 L562.6 271.6 L571.1 270.8 L580.4 262.2 L589.8 270.8 L603.8 267.7 L610.0 273.1 L620.0 270.6 L633.0 272.4 L635.9 273.5" fill="none" stroke="#000" stroke-width="2.85" stroke-linejoin="round" stroke-linecap="round"/>
<path d="M681.0 43.0 L680.4 45.2 L679.3 49.3 L680.9 58.7 L673.6 65.9 L674.2 68.0 L669.0 68.5 L665.3 78.4 L659.6 85.6 L658.6 89.8 L648.7 100.2 L647.2 101.2 L649.8 107.4 L646.2 107.9 L646.7 120.9 L649.8 126.1 L653.9 126.1 L667.9 118.3 L670.5 119.8 L663.5 123.8 L669.1 130.2 L666.0 133.3 L652.0 138.8 L643.5 147.3 L634.9 152.8 L624.8 164.4 L620.9 173.8 L616.2 172.2 L611.6 163.7 L602.2 168.3 L603.8 176.9 L609.2 184.7 L608.4 194.0 L619.3 191.7 L636.5 193.2 L634.1 203.3 L634.1 208.6 L642.7 212.4 L652.0 214.8 L648.9 226.4 L650.5 233.4 L647.3 239.7 L642.7 237.3 L634.9 241.2 L636.5 251.3 L627.1 255.2 L626.3 258.3 L637.0 265.7 L634.8 270.6 L635.9 273.5" fill="none" stroke="#000" stroke-width="2.85" stroke-linejoin="round" stroke-linecap="round"/>
<path d="M635.9 273.5 L636.7 279.0 L639.3 285.4 L642.2 282.8 L653.3 284.3 L657.0 284.6 L659.8 290.2 L664.5 300.0 L667.2 303.9 L670.0 312.2 L670.6 317.8 L678.3 315.7 L690.8 317.8 L686.6 327.5 L678.3 334.4 L670.6 341.3 L671.3 349.7 L675.5 353.8 L681.1 363.5 L688.0 361.5 L699.1 362.2 L708.8 366.3 L707.4 376.0 L714.4 378.1 L714.4 389.9 L707.4 403.8 L713.0 412.1 L722.0 419.7 L721.3 423.9 L716.0 424.5 L711.5 429.7 L704.3 423.2 L699.2 425.8 L695.3 431.7 L694.0 439.4 L691.4 442.7 L678.4 446.6 L669.4 455.0 L668.1 458.9 L672.0 464.0 L673.3 471.8 L672.5 473.1 L662.9 475.4 L663.7 482.0 L665.1 486.5 L661.4 489.4" fill="none" stroke="#000" stroke-width="2.85" stroke-linejoin="round" stroke-linecap="round"/>
<path d="M661.4 489.4 L657.0 487.9 L659.2 480.5 L654.0 476.8 L648.9 476.1 L648.1 481.3 L641.5 480.5 L637.8 477.6 L636.3 472.8 L623.7 476.1 L620.7 488.7 L608.9 497.6 L605.9 508.7 L600.0 512.4 L598.1 518.4 L593.0 531.4 L595.5 540.4 L587.8 546.9 L581.3 550.8 L579.6 556.9 L576.2 565.6 L575.3 570.7 L580.5 574.2 L584.0 577.7 L577.0 581.1 L574.5 588.0 L576.2 601.9 L580.5 605.3 L589.1 617.4 L594.3 627.8 L599.5 629.5 L605.6 634.7 L603.0 639.0 L604.7 646.8 L610.8 650.3 L609.9 657.2 L606.4 659.8 L604.7 662.4 L603.0 671.0 L598.7 674.5 L601.2 677.9 L599.5 683.1 L590.9 692.6" fill="none" stroke="#000" stroke-width="2.85" stroke-linejoin="round" stroke-linecap="round"/>
<path d="M661.4 489.4 L660.7 492.4 L659.6 495.3 L659.8 502.0 L657.7 506.0 L656.3 515.3 L659.2 519.8 L661.4 527.9 L662.9 533.1 L668.1 540.5 L668.8 545.0 L671.1 547.4 L676.0 551.0 L679.2 556.0 L680.0 560.0 L679.2 562.5 L682.5 565.0 L681.6 567.5 L683.3 570.8 L686.6 573.3 L690.8 577.5 L695.0 578.3 L700.0 580.8 L701.6 585.0 L702.5 590.8 L705.0 591.6 L706.6 588.3 L712.5 587.5 L720.0 596.6 L725.8 600.0 L727.4 600.8 L732.4 600.0 L735.8 596.6 L739.1 598.3 L743.3 601.6 L747.4 600.8 L747.4 604.1 L744.1 606.6 L744.1 610.0 L745.8 613.3 L745.8 618.3 L742.4 620.8 L741.6 626.6 L742.4 630.0 L745.8 630.8 L743.3 633.3 L738.3 638.3 L733.3 641.6 L730.0 647.5 L725.8 650.8 L729.1 654.2 L726.6 662.5 L724.1 667.5 L718.3 673.3 L715.0 675.0 L714.1 678.3 L715.8 680.8 L710.8 681.6 L710.8 684.1 L715.8 688.3 L711.6 695.0 L710.0 698.3 L712.5 708.3 L712.5 720.0" fill="none" stroke="#000" stroke-width="2.85" stroke-linejoin="round" stroke-linecap="round"/>
<path d="M590.9 692.6 L594.3 692.4 L596.0 697.5 L595.2 701.0 L599.5 706.2 L607.3 707.9 L617.7 707.0 L623.7 710.5 L625.4 718.3 L627.2 723.5 L638.4 725.2 L643.6 719.1 L649.6 720.0 L653.1 722.6 L654.8 717.4 L660.0 712.2 L666.1 708.8 L667.8 705.3 L673.3 704.1 L680.8 703.6 L685.0 703.3 L691.6 705.8 L695.0 710.8 L700.0 714.1 L706.6 718.3 L712.5 720.3" fill="none" stroke="#000" stroke-width="2.85" stroke-linejoin="round" stroke-linecap="round"/>
<path d="M712.5 720.3 L720.0 719.1 L725.0 715.5 L730.8 718.3 L735.0 719.1 L740.0 723.3 L745.5 726.6 L753.9 732.2 L755.3 735.0 L751.1 737.7 L755.3 743.3 L760.8 746.1 L765.0 751.6 L762.2 757.2 L756.6 757.2 L759.4 762.7 L762.2 768.3 L767.7 773.8 L778.8 782.1 L778.2 789.1 L783.0 793.2 L785.8 803.0 L792.0 804.3 L790.0 812.7 L795.5 821.0 L805.2 821.0 L816.3 826.5 L819.1 821.0 L821.9 815.4 L819.8 809.9 L817.7 804.3 L823.2 802.3 L830.2 805.7 L838.5 802.3 L844.1 807.1 L847.7 805.9 L852.6 809.2 L855.8 813.0 L861.7 812.4 L860.1 818.9 L863.4 828.6 L863.9 837.3 L866.1 839.4 L869.3 837.3 L870.9 834.0 L874.2 832.9 L872.5 827.5 L874.2 824.8 L877.4 824.8 L879.0 827.5 L876.3 828.6 L881.7 829.7 L885.0 834.0 L889.3 836.2 L893.1 832.9 L897.9 837.3 L900.1 835.1 L907.7 833.5 L914.1 836.2 L918.5 838.3 L923.9 829.7 L927.1 828.1 L934.1 829.2 L934.7 818.9 L939.0 817.8 L952.0 815.1 L950.9 821.1 L956.3 822.1 L959.5 820.5 L963.8 821.1 L963.8 824.3 L962.2 830.2 L964.9 834.0 L968.0 836.0" fill="none" stroke="#000" stroke-width="2.85" stroke-linejoin="round" stroke-linecap="round"/>
<path d="M73.0 365.9 L75.7 365.9 L80.4 363.3 L89.7 362.0 L93.1 365.4 L98.5 363.1 L102.2 367.0 L106.3 373.7 L109.9 375.8 L111.0 379.4 L112.5 384.1 L113.6 398.4 L110.4 407.8 L112.0 416.3 L121.3 430.3 L126.0 426.5 L128.3 415.6 L135.3 414.8 L141.6 413.2 L144.7 415.6 L150.9 413.2 L157.1 418.7 L161.8 422.6 L168.0 421.0 L178.9 415.6 L185.1 414.8 L191.3 411.7 L197.6 418.7 L203.8 428.0 L210.0 429.6 L213.8 436.9 L215.6 445.6 L221.6 446.4 L219.9 437.8 L223.3 436.9 L232.8 442.1 L234.6 447.3 L227.7 454.2 L219.9 462.0 L220.7 471.5 L218.2 480.1 L214.7 488.8 L229.4 489.6 L231.1 499.1 L236.3 509.5 L232.8 514.7 L221.6 519.0 L216.4 530.3 L220.7 537.2 L218.2 543.2 L228.5 547.5 L230.3 551.0 L253.6 546.7 L262.2 551.9 L272.6 552.7 L284.7 557.1 L291.6 553.6 L302.0 552.7 L308.9 545.8 L315.8 540.6 L338.3 536.3 L339.2 523.3 L338.3 511.2 L343.5 502.6 L352.1 497.4 L356.4 487.0 L366.8 481.0 L369.4 478.4 L371.1 481.9 L380.6 481.9 L385.0 487.9 L381.5 492.2 L379.8 502.6 L374.6 501.7 L372.9 507.8 L372.9 513.0 L369.4 514.7 L372.0 521.6 L367.7 528.5 L366.0 542.4 L361.6 547.5 L366.0 551.0 L374.6 553.6 L382.4 565.6 L379.8 577.7 L375.4 583.7 L377.2 591.5 L379.8 596.7 L377.2 607.0 L383.2 608.8 L391.9 608.8 L398.8 604.5 L406.6 605.3 L412.6 611.4 L424.7 616.6 L429.0 616.6 L434.2 624.3 L436.8 632.1 L440.3 634.7 L443.7 633.0 L445.4 640.8 L454.1 641.6 L462.7 643.3 L467.9 639.9 L476.6 648.5 L482.6 654.6 L476.6 662.4 L478.3 669.3 L484.3 666.7 L486.9 663.2 L495.6 666.7 L504.2 675.3 L507.7 684.8 L508.5 693.5 L511.1 700.4 L512.9 707.3 L521.7 703.0 L532.1 697.8 L539.0 698.7 L542.5 702.1 L544.2 706.4 L547.7 695.2 L554.6 690.0 L564.9 692.6 L571.9 691.7 L577.0 688.3 L579.6 686.6 L584.0 688.3 L590.9 692.6" fill="none" stroke="#000" stroke-width="2.85" stroke-linejoin="round" stroke-linecap="round"/>
<path d="M73.0 351.0 L75.7 351.4 L78.3 353.0 L79.1 355.6 L77.3 358.7 L75.7 360.7 L73.0 361.0" fill="none" stroke="#000" stroke-width="2.85" stroke-linejoin="round" stroke-linecap="round"/>
<path d="M717.2 716.8 L719.8 718 L727.5 707.5 L730.5 704.8 L733.6 699 L735 696.5 L733 694.6 L730.8 695.8 L731 698.8 L728.2 702.8 L726.5 701.3 Z" fill="#66bfdc" stroke="#4f8fb0" stroke-width="0.7"/>
<circle cx="521.5" cy="564.5" r="5.3" fill="#ee1111" stroke="#222" stroke-width="0.8"/>
</g>
<rect x="75.4" y="45.4" width="890.0" height="1001.0000000000001" fill="none" stroke="#000" stroke-width="1.1"/>
<text x="324.3" y="38" font-size="36.5" textLength="198.2" lengthAdjust="spacingAndGlyphs">21.03.2026</text>
<text x="534.9" y="38" font-size="36.5" textLength="100.1" lengthAdjust="spacingAndGlyphs">04:44</text>
<text x="645.6" y="38" font-size="36.5" textLength="70.0" lengthAdjust="spacingAndGlyphs">UTC</text>
<text x="25.5" y="192.8" font-size="18.3" textLength="41.4" lengthAdjust="spacingAndGlyphs">51°N</text>
<text x="9.2" y="368.3" font-size="18.3" textLength="57.7" lengthAdjust="spacingAndGlyphs">50.5°N</text>
<text x="25.5" y="541.9" font-size="18.3" textLength="41.4" lengthAdjust="spacingAndGlyphs">50°N</text>
<text x="9.2" y="713.8" font-size="18.3" textLength="57.7" lengthAdjust="spacingAndGlyphs">49.5°N</text>
<text x="25.5" y="883.8" font-size="18.3" textLength="41.4" lengthAdjust="spacingAndGlyphs">49°N</text>
<text x="171.8" y="1067.6" font-size="18.3" textLength="29.7" lengthAdjust="spacingAndGlyphs">4°E</text>
<text x="275.6" y="1067.6" font-size="18.3" textLength="44.6" lengthAdjust="spacingAndGlyphs">4.5°E</text>
<text x="394.3" y="1067.6" font-size="18.3" textLength="29.7" lengthAdjust="spacingAndGlyphs">5°E</text>
<text x="498.1" y="1067.6" font-size="18.3" textLength="44.6" lengthAdjust="spacingAndGlyphs">5.5°E</text>
<text x="616.8" y="1067.6" font-size="18.3" textLength="29.7" lengthAdjust="spacingAndGlyphs">6°E</text>
<text x="720.6" y="1067.6" font-size="18.3" textLength="44.6" lengthAdjust="spacingAndGlyphs">6.5°E</text>
<text x="839.3" y="1067.6" font-size="18.3" textLength="29.7" lengthAdjust="spacingAndGlyphs">7°E</text>
<rect x="1023.4" y="964.03" width="45.4" height="32.48" fill="#6673a6"/>
<rect x="1023.4" y="931.85" width="45.4" height="32.48" fill="#5467a0"/>
<rect x="1023.4" y="899.68" width="45.4" height="32.48" fill="#4660a2"/>
<rect x="1023.4" y="867.50" width="45.4" height="32.48" fill="#4a7bb1"/>
<rect x="1023.4" y="835.33" width="45.4" height="32.48" fill="#5b9fc7"/>
<rect x="1023.4" y="803.15" width="45.4" height="32.48" fill="#66c0dc"/>
<rect x="1023.4" y="770.98" width="45.4" height="32.48" fill="#66d6c4"/>
<rect x="1023.4" y="738.80" width="45.4" height="32.48" fill="#40d470"/>
<rect x="1023.4" y="706.62" width="45.4" height="32.48" fill="#12cc1a"/>
<rect x="1023.4" y="674.45" width="45.4" height="32.48" fill="#10b818"/>
<rect x="1023.4" y="642.27" width="45.4" height="32.48" fill="#10a016"/>
<rect x="1023.4" y="610.10" width="45.4" height="32.48" fill="#0f8a18"/>
<rect x="1023.4" y="577.92" width="45.4" height="32.48" fill="#0c7a16"/>
<rect x="1023.4" y="545.75" width="45.4" height="32.48" fill="#085c10"/>
<rect x="1023.4" y="513.58" width="45.4" height="32.48" fill="#457a10"/>
<rect x="1023.4" y="481.40" width="45.4" height="32.48" fill="#b0b20c"/>
<rect x="1023.4" y="449.23" width="45.4" height="32.48" fill="#ffd500"/>
<rect x="1023.4" y="417.05" width="45.4" height="32.48" fill="#ffb400"/>
<rect x="1023.4" y="384.88" width="45.4" height="32.48" fill="#ff9a00"/>
<rect x="1023.4" y="352.70" width="45.4" height="32.48" fill="#ff7a00"/>
<rect x="1023.4" y="320.52" width="45.4" height="32.48" fill="#e60000"/>
<rect x="1023.4" y="288.35" width="45.4" height="32.48" fill="#c40000"/>
<rect x="1023.4" y="256.17" width="45.4" height="32.48" fill="#a00000"/>
<rect x="1023.4" y="224.00" width="45.4" height="32.48" fill="#780000"/>
<rect x="1023.4" y="191.82" width="45.4" height="32.48" fill="#ffe0ff"/>
<rect x="1023.4" y="159.65" width="45.4" height="32.48" fill="#ffb0ff"/>
<rect x="1023.4" y="127.47" width="45.4" height="32.48" fill="#ff66ff"/>
<rect x="1023.4" y="95.30" width="45.4" height="32.48" fill="#ee33ee"/>
<rect x="1023.4" y="95.3" width="45.4" height="900.9" fill="none" stroke="#000" stroke-width="1.1"/>
<path d="M1068.8 996.2H1073.8" stroke="#000" stroke-width="1.1"/>
<text x="1078.7" y="1006.8" font-size="29.5" textLength="17" lengthAdjust="spacingAndGlyphs">0</text>
<path d="M1068.8 867.5H1073.8" stroke="#000" stroke-width="1.1"/>
<text x="1078.7" y="878.1" font-size="29.5" textLength="34" lengthAdjust="spacingAndGlyphs">10</text>
<path d="M1068.8 738.8H1073.8" stroke="#000" stroke-width="1.1"/>
<text x="1078.7" y="749.4" font-size="29.5" textLength="34" lengthAdjust="spacingAndGlyphs">20</text>
<path d="M1068.8 610.1H1073.8" stroke="#000" stroke-width="1.1"/>
<text x="1078.7" y="620.7" font-size="29.5" textLength="34" lengthAdjust="spacingAndGlyphs">30</text>
<path d="M1068.8 481.4H1073.8" stroke="#000" stroke-width="1.1"/>
<text x="1078.7" y="492.0" font-size="29.5" textLength="34" lengthAdjust="spacingAndGlyphs">40</text>
<path d="M1068.8 352.7H1073.8" stroke="#000" stroke-width="1.1"/>
<text x="1078.7" y="363.3" font-size="29.5" textLength="34" lengthAdjust="spacingAndGlyphs">50</text>
<path d="M1068.8 224.0H1073.8" stroke="#000" stroke-width="1.1"/>
<text x="1078.7" y="234.6" font-size="29.5" textLength="34" lengthAdjust="spacingAndGlyphs">60</text>
<path d="M1068.8 95.3H1073.8" stroke="#000" stroke-width="1.1"/>
<text x="1078.7" y="105.9" font-size="29.5" textLength="34" lengthAdjust="spacingAndGlyphs">70</text>
<text x="0" y="0" font-size="29.5" text-anchor="middle" textLength="55" lengthAdjust="spacingAndGlyphs" transform="translate(1142,548.2) rotate(-90)">dBZ</text>
<rect x="100.4" y="50.6" width="218.3" height="49.1" fill="#fff" fill-opacity="0.86" stroke="#000" stroke-width="1.1"/>
<text x="105.9" y="69.9" font-size="17.5" textLength="68.6" lengthAdjust="spacingAndGlyphs">Product:</text>
<text x="179.5" y="69.9" font-size="17.5" textLength="34.8" lengthAdjust="spacingAndGlyphs">0.3°</text>
<text x="220.2" y="69.9" font-size="17.5" textLength="92.9" lengthAdjust="spacingAndGlyphs">Reflectivity</text>
<text x="105.9" y="90.3" font-size="17.5" textLength="47.8" lengthAdjust="spacingAndGlyphs">Data:</text>
<text x="156.6" y="90.3" font-size="17.5" textLength="42.4" lengthAdjust="spacingAndGlyphs">RMIB</text>
</svg></body></html>
